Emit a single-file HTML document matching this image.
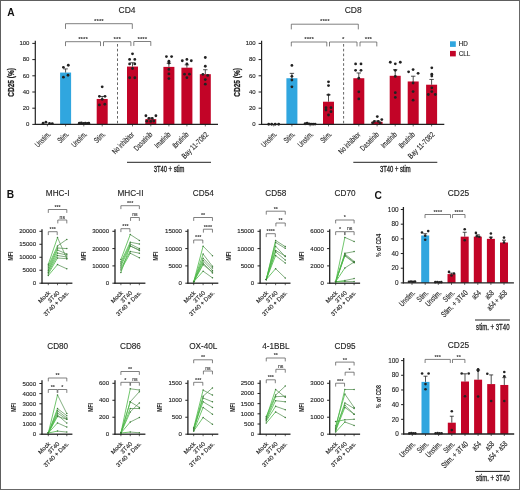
<!DOCTYPE html>
<html><head><meta charset="utf-8"><style>
html,body{margin:0;padding:0;background:#fff;}
body{width:520px;height:490px;overflow:hidden;position:relative;}
svg{position:absolute;left:0;top:0;will-change:transform;}
.frame{position:absolute;left:0;top:0;width:520px;height:490px;box-sizing:border-box;border:1px solid #686868;border-top-color:#5e5e5e;border-left-color:#5e5e5e;}
</style></head><body>
<svg width="520" height="490" viewBox="0 0 520 490" font-family='"Liberation Sans", sans-serif'>
<rect x="0" y="0" width="520" height="490" fill="#fff"/>
<text transform="translate(127,13.4)" font-size="8.5" text-anchor="middle" fill="#222" stroke="#222" stroke-width="0.12">CD4</text>
<line x1="35.3" y1="40.8" x2="35.3" y2="124.9" stroke="#222" stroke-width="1.2"/>
<line x1="32.3" y1="124.4" x2="35.3" y2="124.4" stroke="#222" stroke-width="1"/>
<text transform="translate(29.4,126.1)" font-size="6" text-anchor="end" fill="#222" stroke="#222" stroke-width="0.12">0</text>
<line x1="32.3" y1="108.2" x2="35.3" y2="108.2" stroke="#222" stroke-width="1"/>
<text transform="translate(29.4,109.9)" font-size="6" text-anchor="end" fill="#222" stroke="#222" stroke-width="0.12">20</text>
<line x1="32.3" y1="92" x2="35.3" y2="92" stroke="#222" stroke-width="1"/>
<text transform="translate(29.4,93.7)" font-size="6" text-anchor="end" fill="#222" stroke="#222" stroke-width="0.12">40</text>
<line x1="32.3" y1="75.8" x2="35.3" y2="75.8" stroke="#222" stroke-width="1"/>
<text transform="translate(29.4,77.5)" font-size="6" text-anchor="end" fill="#222" stroke="#222" stroke-width="0.12">60</text>
<line x1="32.3" y1="59.6" x2="35.3" y2="59.6" stroke="#222" stroke-width="1"/>
<text transform="translate(29.4,61.3)" font-size="6" text-anchor="end" fill="#222" stroke="#222" stroke-width="0.12">80</text>
<line x1="32.3" y1="43.4" x2="35.3" y2="43.4" stroke="#222" stroke-width="1"/>
<text transform="translate(29.4,45.1)" font-size="6" text-anchor="end" fill="#222" stroke="#222" stroke-width="0.12">100</text>
<text transform="translate(14.1,82.4) rotate(-90)" font-size="8.2" text-anchor="middle" fill="#222" font-weight="bold" textLength="28.6" lengthAdjust="spacingAndGlyphs" stroke="#222" stroke-width="0.25">CD25 (%)</text>
<circle cx="43.1" cy="123.19" r="1.4" fill="#222"/>
<circle cx="45.9" cy="122.13" r="1.4" fill="#222"/>
<circle cx="49.5" cy="123.43" r="1.4" fill="#222"/>
<circle cx="52.3" cy="123.59" r="1.4" fill="#222"/>
<line x1="47.4" y1="124.4" x2="47.4" y2="126.4" stroke="#222" stroke-width="0.7"/>
<text transform="translate(51.1,134.8) rotate(-45) scale(0.7,1)" font-size="7.8" text-anchor="end" fill="#222" stroke="#222" stroke-width="0.12">Unstim.</text>
<rect x="60.1" y="72.56" width="11" height="51.84" fill="#30a6df"/>
<line x1="65.6" y1="72.56" x2="65.6" y2="68.91" stroke="#222" stroke-width="0.8"/>
<line x1="63.4" y1="68.91" x2="67.8" y2="68.91" stroke="#222" stroke-width="0.8"/>
<circle cx="63.4" cy="67.3" r="1.4" fill="#222"/>
<circle cx="68.3" cy="65.27" r="1.4" fill="#222"/>
<circle cx="63.4" cy="77.18" r="1.4" fill="#222"/>
<circle cx="68" cy="75.23" r="1.4" fill="#222"/>
<line x1="65.6" y1="124.4" x2="65.6" y2="126.4" stroke="#222" stroke-width="0.7"/>
<text transform="translate(69.3,134.8) rotate(-45) scale(0.7,1)" font-size="7.8" text-anchor="end" fill="#222" stroke="#222" stroke-width="0.12">Stim.</text>
<circle cx="79.3" cy="123.27" r="1.4" fill="#222"/>
<circle cx="81.3" cy="122.94" r="1.4" fill="#222"/>
<circle cx="83.3" cy="123.43" r="1.4" fill="#222"/>
<circle cx="85.3" cy="123.1" r="1.4" fill="#222"/>
<circle cx="87.3" cy="123.35" r="1.4" fill="#222"/>
<circle cx="88.8" cy="123.19" r="1.4" fill="#222"/>
<line x1="83.8" y1="124.4" x2="83.8" y2="126.4" stroke="#222" stroke-width="0.7"/>
<text transform="translate(87.5,134.8) rotate(-45) scale(0.7,1)" font-size="7.8" text-anchor="end" fill="#222" stroke="#222" stroke-width="0.12">Unstim.</text>
<rect x="96.7" y="98.97" width="11" height="25.43" fill="#c20427"/>
<line x1="102.2" y1="98.97" x2="102.2" y2="96.46" stroke="#222" stroke-width="0.8"/>
<line x1="100" y1="96.46" x2="104.4" y2="96.46" stroke="#222" stroke-width="0.8"/>
<circle cx="102.2" cy="86.82" r="1.4" fill="#222"/>
<circle cx="99.4" cy="96.37" r="1.4" fill="#222"/>
<circle cx="105" cy="96.37" r="1.4" fill="#222"/>
<circle cx="102.2" cy="99.29" r="1.4" fill="#222"/>
<circle cx="99.4" cy="104.96" r="1.4" fill="#222"/>
<circle cx="104.8" cy="104.23" r="1.4" fill="#222"/>
<line x1="102.2" y1="124.4" x2="102.2" y2="126.4" stroke="#222" stroke-width="0.7"/>
<text transform="translate(105.9,134.8) rotate(-45) scale(0.7,1)" font-size="7.8" text-anchor="end" fill="#222" stroke="#222" stroke-width="0.12">Stim.</text>
<rect x="127" y="66.57" width="11" height="57.83" fill="#c20427"/>
<line x1="132.5" y1="66.57" x2="132.5" y2="62.76" stroke="#222" stroke-width="0.8"/>
<line x1="130.3" y1="62.76" x2="134.7" y2="62.76" stroke="#222" stroke-width="0.8"/>
<circle cx="132.5" cy="53.85" r="1.4" fill="#222"/>
<circle cx="129.6" cy="59.44" r="1.4" fill="#222"/>
<circle cx="134.8" cy="59.44" r="1.4" fill="#222"/>
<circle cx="129.6" cy="63.97" r="1.4" fill="#222"/>
<circle cx="134.8" cy="63.97" r="1.4" fill="#222"/>
<circle cx="132.5" cy="68.51" r="1.4" fill="#222"/>
<circle cx="129.6" cy="77.74" r="1.4" fill="#222"/>
<circle cx="134.8" cy="77.74" r="1.4" fill="#222"/>
<line x1="132.5" y1="124.4" x2="132.5" y2="126.4" stroke="#222" stroke-width="0.7"/>
<text transform="translate(134.7,135.1) rotate(-45) scale(0.7,1)" font-size="7.8" text-anchor="end" fill="#222" stroke="#222" stroke-width="0.12">No inhibitor</text>
<rect x="145.3" y="119.14" width="11" height="5.27" fill="#c20427"/>
<line x1="150.8" y1="119.14" x2="150.8" y2="117.92" stroke="#222" stroke-width="0.8"/>
<line x1="148.6" y1="117.92" x2="153" y2="117.92" stroke="#222" stroke-width="0.8"/>
<circle cx="145.9" cy="115.73" r="1.4" fill="#222"/>
<circle cx="155.9" cy="115.73" r="1.4" fill="#222"/>
<circle cx="148.8" cy="118.41" r="1.4" fill="#222"/>
<circle cx="152.3" cy="118.41" r="1.4" fill="#222"/>
<circle cx="146.8" cy="121.16" r="1.4" fill="#222"/>
<circle cx="150.8" cy="121.4" r="1.4" fill="#222"/>
<circle cx="153.8" cy="121" r="1.4" fill="#222"/>
<line x1="150.8" y1="124.4" x2="150.8" y2="126.4" stroke="#222" stroke-width="0.7"/>
<text transform="translate(153,135.1) rotate(-45) scale(0.7,1)" font-size="7.8" text-anchor="end" fill="#222" stroke="#222" stroke-width="0.12">Dasatinib</text>
<rect x="163.4" y="66.89" width="11" height="57.51" fill="#c20427"/>
<line x1="168.9" y1="66.89" x2="168.9" y2="63.25" stroke="#222" stroke-width="0.8"/>
<line x1="166.7" y1="63.25" x2="171.1" y2="63.25" stroke="#222" stroke-width="0.8"/>
<circle cx="166.4" cy="56.6" r="1.4" fill="#222"/>
<circle cx="171.6" cy="56.6" r="1.4" fill="#222"/>
<circle cx="168.9" cy="61.22" r="1.4" fill="#222"/>
<circle cx="168.9" cy="63" r="1.4" fill="#222"/>
<circle cx="168.9" cy="69.4" r="1.4" fill="#222"/>
<circle cx="168.9" cy="73.94" r="1.4" fill="#222"/>
<circle cx="168.9" cy="78.55" r="1.4" fill="#222"/>
<line x1="168.9" y1="124.4" x2="168.9" y2="126.4" stroke="#222" stroke-width="0.7"/>
<text transform="translate(171.1,135.1) rotate(-45) scale(0.7,1)" font-size="7.8" text-anchor="end" fill="#222" stroke="#222" stroke-width="0.12">Imatinib</text>
<rect x="181.4" y="67.7" width="11" height="56.7" fill="#c20427"/>
<line x1="186.9" y1="67.7" x2="186.9" y2="64.87" stroke="#222" stroke-width="0.8"/>
<line x1="184.7" y1="64.87" x2="189.1" y2="64.87" stroke="#222" stroke-width="0.8"/>
<circle cx="182.3" cy="60.73" r="1.4" fill="#222"/>
<circle cx="186.9" cy="59.44" r="1.4" fill="#222"/>
<circle cx="191.3" cy="60.73" r="1.4" fill="#222"/>
<circle cx="186.9" cy="63.97" r="1.4" fill="#222"/>
<circle cx="184.5" cy="74.18" r="1.4" fill="#222"/>
<circle cx="189.4" cy="74.18" r="1.4" fill="#222"/>
<circle cx="186.9" cy="77.66" r="1.4" fill="#222"/>
<line x1="186.9" y1="124.4" x2="186.9" y2="126.4" stroke="#222" stroke-width="0.7"/>
<text transform="translate(189.1,135.1) rotate(-45) scale(0.7,1)" font-size="7.8" text-anchor="end" fill="#222" stroke="#222" stroke-width="0.12">Ibrutinib</text>
<rect x="199.8" y="74.18" width="11" height="50.22" fill="#c20427"/>
<line x1="205.3" y1="74.18" x2="205.3" y2="69.72" stroke="#222" stroke-width="0.8"/>
<line x1="203.1" y1="69.72" x2="207.5" y2="69.72" stroke="#222" stroke-width="0.8"/>
<circle cx="205.3" cy="57.49" r="1.4" fill="#222"/>
<circle cx="205.3" cy="66.24" r="1.4" fill="#222"/>
<circle cx="202.9" cy="74.34" r="1.4" fill="#222"/>
<circle cx="207.7" cy="75.4" r="1.4" fill="#222"/>
<circle cx="205.3" cy="79.53" r="1.4" fill="#222"/>
<circle cx="205.3" cy="84.22" r="1.4" fill="#222"/>
<line x1="205.3" y1="124.4" x2="205.3" y2="126.4" stroke="#222" stroke-width="0.7"/>
<text transform="translate(208.8,135.1) rotate(-45) scale(0.78,1)" font-size="7.8" text-anchor="end" fill="#222" stroke="#222" stroke-width="0.12">Bay 11-7082</text>
<line x1="34.8" y1="124.4" x2="218" y2="124.4" stroke="#222" stroke-width="1.2"/>
<line x1="117.5" y1="44" x2="117.5" y2="124.4" stroke="#555" stroke-width="0.9" stroke-dasharray="2.6,2.2"/>
<polyline points="65.5,28.9 65.5,23.7 132.3,23.7 132.3,28.9" stroke="#555" stroke-width="0.75" fill="none"/>
<text transform="translate(98.9,22.9)" font-size="6.2" text-anchor="middle" fill="#333" font-weight="bold">****</text>
<polyline points="65.5,46.1 65.5,41.7 100.5,41.7 100.5,46.1" stroke="#555" stroke-width="0.75" fill="none"/>
<text transform="translate(83,40.9)" font-size="6.2" text-anchor="middle" fill="#333" font-weight="bold">****</text>
<polyline points="103.5,46.1 103.5,41.7 130.9,41.7 130.9,46.1" stroke="#555" stroke-width="0.75" fill="none"/>
<text transform="translate(117.2,40.9)" font-size="6.2" text-anchor="middle" fill="#333" font-weight="bold">***</text>
<polyline points="133.8,45.9 133.8,41.5 150.8,41.5 150.8,45.9" stroke="#555" stroke-width="0.75" fill="none"/>
<text transform="translate(142.3,40.7)" font-size="6.2" text-anchor="middle" fill="#333" font-weight="bold">****</text>
<line x1="127" y1="162.3" x2="211" y2="162.3" stroke="#222" stroke-width="1"/>
<text transform="translate(169,172)" font-size="8.8" text-anchor="middle" fill="#222" textLength="30.7" lengthAdjust="spacingAndGlyphs" stroke="#222" stroke-width="0.35">3T40 + stim</text>
<text transform="translate(353.2,13.4)" font-size="8.5" text-anchor="middle" fill="#222" stroke="#222" stroke-width="0.12">CD8</text>
<line x1="261.6" y1="40.8" x2="261.6" y2="124.9" stroke="#222" stroke-width="1.2"/>
<line x1="258.6" y1="124.4" x2="261.6" y2="124.4" stroke="#222" stroke-width="1"/>
<text transform="translate(255.7,126.1)" font-size="6" text-anchor="end" fill="#222" stroke="#222" stroke-width="0.12">0</text>
<line x1="258.6" y1="108.2" x2="261.6" y2="108.2" stroke="#222" stroke-width="1"/>
<text transform="translate(255.7,109.9)" font-size="6" text-anchor="end" fill="#222" stroke="#222" stroke-width="0.12">20</text>
<line x1="258.6" y1="92" x2="261.6" y2="92" stroke="#222" stroke-width="1"/>
<text transform="translate(255.7,93.7)" font-size="6" text-anchor="end" fill="#222" stroke="#222" stroke-width="0.12">40</text>
<line x1="258.6" y1="75.8" x2="261.6" y2="75.8" stroke="#222" stroke-width="1"/>
<text transform="translate(255.7,77.5)" font-size="6" text-anchor="end" fill="#222" stroke="#222" stroke-width="0.12">60</text>
<line x1="258.6" y1="59.6" x2="261.6" y2="59.6" stroke="#222" stroke-width="1"/>
<text transform="translate(255.7,61.3)" font-size="6" text-anchor="end" fill="#222" stroke="#222" stroke-width="0.12">80</text>
<line x1="258.6" y1="43.4" x2="261.6" y2="43.4" stroke="#222" stroke-width="1"/>
<text transform="translate(255.7,45.1)" font-size="6" text-anchor="end" fill="#222" stroke="#222" stroke-width="0.12">100</text>
<text transform="translate(240.2,82.4) rotate(-90)" font-size="8.2" text-anchor="middle" fill="#222" font-weight="bold" textLength="28.6" lengthAdjust="spacingAndGlyphs" stroke="#222" stroke-width="0.25">CD25 (%)</text>
<circle cx="268.7" cy="124.24" r="1.4" fill="#222"/>
<circle cx="271.7" cy="124.24" r="1.4" fill="#222"/>
<circle cx="275.2" cy="124.24" r="1.4" fill="#222"/>
<circle cx="278.7" cy="124.24" r="1.4" fill="#222"/>
<line x1="273.7" y1="124.4" x2="273.7" y2="126.4" stroke="#222" stroke-width="0.7"/>
<text transform="translate(277.4,134.8) rotate(-45) scale(0.7,1)" font-size="7.8" text-anchor="end" fill="#222" stroke="#222" stroke-width="0.12">Unstim.</text>
<rect x="286.4" y="78.23" width="11" height="46.17" fill="#30a6df"/>
<line x1="291.9" y1="78.23" x2="291.9" y2="73.37" stroke="#222" stroke-width="0.8"/>
<line x1="289.7" y1="73.37" x2="294.1" y2="73.37" stroke="#222" stroke-width="0.8"/>
<circle cx="291.9" cy="65.43" r="1.4" fill="#222"/>
<circle cx="291.9" cy="76.29" r="1.4" fill="#222"/>
<circle cx="291.9" cy="80.01" r="1.4" fill="#222"/>
<circle cx="291.9" cy="86.82" r="1.4" fill="#222"/>
<line x1="291.9" y1="124.4" x2="291.9" y2="126.4" stroke="#222" stroke-width="0.7"/>
<text transform="translate(295.6,134.8) rotate(-45) scale(0.7,1)" font-size="7.8" text-anchor="end" fill="#222" stroke="#222" stroke-width="0.12">Stim.</text>
<circle cx="305.1" cy="123.75" r="1.4" fill="#222"/>
<circle cx="307.1" cy="123.19" r="1.4" fill="#222"/>
<circle cx="309.1" cy="123.91" r="1.4" fill="#222"/>
<circle cx="311.1" cy="124.08" r="1.4" fill="#222"/>
<circle cx="313.1" cy="124.16" r="1.4" fill="#222"/>
<circle cx="315.1" cy="124.08" r="1.4" fill="#222"/>
<line x1="310.1" y1="124.4" x2="310.1" y2="126.4" stroke="#222" stroke-width="0.7"/>
<text transform="translate(313.8,134.8) rotate(-45) scale(0.7,1)" font-size="7.8" text-anchor="end" fill="#222" stroke="#222" stroke-width="0.12">Unstim.</text>
<rect x="323" y="101.72" width="11" height="22.68" fill="#c20427"/>
<line x1="328.5" y1="101.72" x2="328.5" y2="94.84" stroke="#222" stroke-width="0.8"/>
<line x1="326.3" y1="94.84" x2="330.7" y2="94.84" stroke="#222" stroke-width="0.8"/>
<circle cx="328.5" cy="81.79" r="1.4" fill="#222"/>
<circle cx="328.5" cy="85.6" r="1.4" fill="#222"/>
<circle cx="328.5" cy="94.84" r="1.4" fill="#222"/>
<circle cx="326" cy="107.71" r="1.4" fill="#222"/>
<circle cx="331" cy="107.71" r="1.4" fill="#222"/>
<circle cx="326" cy="109.98" r="1.4" fill="#222"/>
<circle cx="331" cy="111.68" r="1.4" fill="#222"/>
<circle cx="328.5" cy="115" r="1.4" fill="#222"/>
<line x1="328.5" y1="124.4" x2="328.5" y2="126.4" stroke="#222" stroke-width="0.7"/>
<text transform="translate(332.2,134.8) rotate(-45) scale(0.7,1)" font-size="7.8" text-anchor="end" fill="#222" stroke="#222" stroke-width="0.12">Stim.</text>
<rect x="353.3" y="78.23" width="11" height="46.17" fill="#c20427"/>
<line x1="358.8" y1="78.23" x2="358.8" y2="72.97" stroke="#222" stroke-width="0.8"/>
<line x1="356.6" y1="72.97" x2="361" y2="72.97" stroke="#222" stroke-width="0.8"/>
<circle cx="355.6" cy="63.97" r="1.4" fill="#222"/>
<circle cx="361" cy="63.97" r="1.4" fill="#222"/>
<circle cx="355.6" cy="70.37" r="1.4" fill="#222"/>
<circle cx="361" cy="70.37" r="1.4" fill="#222"/>
<circle cx="358.8" cy="78.23" r="1.4" fill="#222"/>
<circle cx="358.8" cy="91.84" r="1.4" fill="#222"/>
<circle cx="358.8" cy="98.97" r="1.4" fill="#222"/>
<line x1="358.8" y1="124.4" x2="358.8" y2="126.4" stroke="#222" stroke-width="0.7"/>
<text transform="translate(361,135.1) rotate(-45) scale(0.7,1)" font-size="7.8" text-anchor="end" fill="#222" stroke="#222" stroke-width="0.12">No inhibitor</text>
<rect x="371.6" y="121.81" width="11" height="2.59" fill="#c20427"/>
<line x1="377.1" y1="121.81" x2="377.1" y2="121" stroke="#222" stroke-width="0.8"/>
<line x1="374.9" y1="121" x2="379.3" y2="121" stroke="#222" stroke-width="0.8"/>
<circle cx="377.3" cy="116.62" r="1.4" fill="#222"/>
<circle cx="381.8" cy="119.54" r="1.4" fill="#222"/>
<circle cx="374.3" cy="121.4" r="1.4" fill="#222"/>
<circle cx="378.3" cy="121.4" r="1.4" fill="#222"/>
<circle cx="372.6" cy="122.78" r="1.4" fill="#222"/>
<circle cx="380.1" cy="122.78" r="1.4" fill="#222"/>
<line x1="377.1" y1="124.4" x2="377.1" y2="126.4" stroke="#222" stroke-width="0.7"/>
<text transform="translate(379.3,135.1) rotate(-45) scale(0.7,1)" font-size="7.8" text-anchor="end" fill="#222" stroke="#222" stroke-width="0.12">Dasatinib</text>
<rect x="389.7" y="75.8" width="11" height="48.6" fill="#c20427"/>
<line x1="395.2" y1="75.8" x2="395.2" y2="69.72" stroke="#222" stroke-width="0.8"/>
<line x1="393" y1="69.72" x2="397.4" y2="69.72" stroke="#222" stroke-width="0.8"/>
<circle cx="390.3" cy="62.27" r="1.4" fill="#222"/>
<circle cx="395.3" cy="63.81" r="1.4" fill="#222"/>
<circle cx="400.3" cy="62.27" r="1.4" fill="#222"/>
<circle cx="395.3" cy="70.37" r="1.4" fill="#222"/>
<circle cx="395.3" cy="76.45" r="1.4" fill="#222"/>
<circle cx="395.3" cy="92.65" r="1.4" fill="#222"/>
<circle cx="395.3" cy="97.43" r="1.4" fill="#222"/>
<line x1="395.2" y1="124.4" x2="395.2" y2="126.4" stroke="#222" stroke-width="0.7"/>
<text transform="translate(397.4,135.1) rotate(-45) scale(0.7,1)" font-size="7.8" text-anchor="end" fill="#222" stroke="#222" stroke-width="0.12">Imatinib</text>
<rect x="407.7" y="81.47" width="11" height="42.93" fill="#c20427"/>
<line x1="413.2" y1="81.47" x2="413.2" y2="76.21" stroke="#222" stroke-width="0.8"/>
<line x1="411" y1="76.21" x2="415.4" y2="76.21" stroke="#222" stroke-width="0.8"/>
<circle cx="408.6" cy="71.83" r="1.4" fill="#222"/>
<circle cx="413.1" cy="69.56" r="1.4" fill="#222"/>
<circle cx="418.1" cy="73.29" r="1.4" fill="#222"/>
<circle cx="413.1" cy="83.01" r="1.4" fill="#222"/>
<circle cx="413.1" cy="91.59" r="1.4" fill="#222"/>
<circle cx="413.1" cy="100.18" r="1.4" fill="#222"/>
<line x1="413.2" y1="124.4" x2="413.2" y2="126.4" stroke="#222" stroke-width="0.7"/>
<text transform="translate(415.4,135.1) rotate(-45) scale(0.7,1)" font-size="7.8" text-anchor="end" fill="#222" stroke="#222" stroke-width="0.12">Ibrutinib</text>
<rect x="426.1" y="84.71" width="11" height="39.69" fill="#c20427"/>
<line x1="431.6" y1="84.71" x2="431.6" y2="79.44" stroke="#222" stroke-width="0.8"/>
<line x1="429.4" y1="79.44" x2="433.8" y2="79.44" stroke="#222" stroke-width="0.8"/>
<circle cx="431.8" cy="67.86" r="1.4" fill="#222"/>
<circle cx="431.8" cy="74.26" r="1.4" fill="#222"/>
<circle cx="431.8" cy="76.12" r="1.4" fill="#222"/>
<circle cx="431.8" cy="87.79" r="1.4" fill="#222"/>
<circle cx="428.3" cy="94.51" r="1.4" fill="#222"/>
<circle cx="435.3" cy="94.51" r="1.4" fill="#222"/>
<circle cx="431.8" cy="91.59" r="1.4" fill="#222"/>
<line x1="431.6" y1="124.4" x2="431.6" y2="126.4" stroke="#222" stroke-width="0.7"/>
<text transform="translate(435.1,135.1) rotate(-45) scale(0.78,1)" font-size="7.8" text-anchor="end" fill="#222" stroke="#222" stroke-width="0.12">Bay 11-7082</text>
<line x1="261.1" y1="124.4" x2="444.3" y2="124.4" stroke="#222" stroke-width="1.2"/>
<line x1="343.6" y1="44" x2="343.6" y2="124.4" stroke="#555" stroke-width="0.9" stroke-dasharray="2.6,2.2"/>
<polyline points="291.3,29.4 291.3,24.2 358.3,24.2 358.3,29.4" stroke="#555" stroke-width="0.75" fill="none"/>
<text transform="translate(324.8,23.4)" font-size="6.2" text-anchor="middle" fill="#333" font-weight="bold">****</text>
<polyline points="291.3,46.4 291.3,42 326.8,42 326.8,46.4" stroke="#555" stroke-width="0.75" fill="none"/>
<text transform="translate(309.05,41.2)" font-size="6.2" text-anchor="middle" fill="#333" font-weight="bold">****</text>
<polyline points="329.5,46.4 329.5,42 357,42 357,46.4" stroke="#555" stroke-width="0.75" fill="none"/>
<text transform="translate(343.25,41.2)" font-size="6.2" text-anchor="middle" fill="#333" font-weight="bold">*</text>
<polyline points="360,46.4 360,42 376.8,42 376.8,46.4" stroke="#555" stroke-width="0.75" fill="none"/>
<text transform="translate(368.4,41.2)" font-size="6.2" text-anchor="middle" fill="#333" font-weight="bold">***</text>
<line x1="353.3" y1="162.3" x2="437.3" y2="162.3" stroke="#222" stroke-width="1"/>
<text transform="translate(395.3,172)" font-size="8.8" text-anchor="middle" fill="#222" textLength="30.7" lengthAdjust="spacingAndGlyphs" stroke="#222" stroke-width="0.35">3T40 + stim</text>
<rect x="450" y="41.3" width="5.8" height="5.6" fill="#30a6df"/>
<rect x="450" y="50.9" width="5.8" height="5.5" fill="#c20427"/>
<text transform="translate(458.8,46.1)" font-size="6.3" text-anchor="start" fill="#222" stroke="#222" stroke-width="0.12">HD</text>
<text transform="translate(458.8,55.7)" font-size="6.3" text-anchor="start" fill="#222" stroke="#222" stroke-width="0.12">CLL</text>
<text transform="translate(7.2,15.5)" font-size="10.2" text-anchor="start" fill="#111" font-weight="bold">A</text>
<text transform="translate(6.8,198.2)" font-size="10.2" text-anchor="start" fill="#111" font-weight="bold">B</text>
<text transform="translate(374.6,198.8)" font-size="10.2" text-anchor="start" fill="#111" font-weight="bold">C</text>
<text transform="translate(57.7,196.3)" font-size="8.2" text-anchor="middle" fill="#222" stroke="#222" stroke-width="0.12">MHC-I</text>
<line x1="42" y1="229.2" x2="42" y2="283.7" stroke="#222" stroke-width="1.3"/>
<line x1="39.4" y1="283.2" x2="42" y2="283.2" stroke="#222" stroke-width="1"/>
<text transform="translate(36.1,285.2)" font-size="6.1" text-anchor="end" fill="#222" stroke="#222" stroke-width="0.12">0</text>
<line x1="39.4" y1="270.23" x2="42" y2="270.23" stroke="#222" stroke-width="1"/>
<text transform="translate(36.1,272.23)" font-size="6.1" text-anchor="end" fill="#222" stroke="#222" stroke-width="0.12">5000</text>
<line x1="39.4" y1="257.25" x2="42" y2="257.25" stroke="#222" stroke-width="1"/>
<text transform="translate(36.1,259.25)" font-size="6.1" text-anchor="end" fill="#222" stroke="#222" stroke-width="0.12">10000</text>
<line x1="39.4" y1="244.28" x2="42" y2="244.28" stroke="#222" stroke-width="1"/>
<text transform="translate(36.1,246.28)" font-size="6.1" text-anchor="end" fill="#222" stroke="#222" stroke-width="0.12">15000</text>
<line x1="39.4" y1="231.3" x2="42" y2="231.3" stroke="#222" stroke-width="1"/>
<text transform="translate(36.1,233.3)" font-size="6.1" text-anchor="end" fill="#222" stroke="#222" stroke-width="0.12">20000</text>
<line x1="41.4" y1="283.2" x2="72.4" y2="283.2" stroke="#222" stroke-width="1.3"/>
<line x1="48.3" y1="283.2" x2="48.3" y2="285.2" stroke="#222" stroke-width="0.7"/>
<line x1="57.5" y1="283.2" x2="57.5" y2="285.2" stroke="#222" stroke-width="0.7"/>
<line x1="66.8" y1="283.2" x2="66.8" y2="285.2" stroke="#222" stroke-width="0.7"/>
<text transform="translate(12.8,256.1) rotate(-90)" font-size="8" text-anchor="middle" fill="#222" font-weight="bold" textLength="8.9" lengthAdjust="spacingAndGlyphs">MFI</text>
<line x1="57.5" y1="237.6" x2="66.8" y2="258.7" stroke="#5b9457" stroke-width="0.75"/>
<line x1="57.5" y1="245.9" x2="66.8" y2="239.4" stroke="#5b9457" stroke-width="0.75"/>
<line x1="57.5" y1="248" x2="66.8" y2="248.6" stroke="#5b9457" stroke-width="0.75"/>
<line x1="57.5" y1="250" x2="66.8" y2="254" stroke="#5b9457" stroke-width="0.75"/>
<line x1="57.5" y1="253" x2="66.8" y2="255" stroke="#5b9457" stroke-width="0.75"/>
<line x1="57.5" y1="255.5" x2="66.8" y2="257" stroke="#5b9457" stroke-width="0.75"/>
<line x1="57.5" y1="258" x2="66.8" y2="258.7" stroke="#5b9457" stroke-width="0.75"/>
<line x1="57.5" y1="264.6" x2="66.8" y2="268.8" stroke="#5b9457" stroke-width="0.75"/>
<line x1="48.3" y1="264.2" x2="57.5" y2="237.6" stroke="#4cb848" stroke-width="0.8"/>
<line x1="48.3" y1="266" x2="57.5" y2="245.9" stroke="#4cb848" stroke-width="0.8"/>
<line x1="48.3" y1="268" x2="57.5" y2="248" stroke="#4cb848" stroke-width="0.8"/>
<line x1="48.3" y1="270" x2="57.5" y2="250" stroke="#4cb848" stroke-width="0.8"/>
<line x1="48.3" y1="271" x2="57.5" y2="253" stroke="#4cb848" stroke-width="0.8"/>
<line x1="48.3" y1="272.5" x2="57.5" y2="255.5" stroke="#4cb848" stroke-width="0.8"/>
<line x1="48.3" y1="274" x2="57.5" y2="258" stroke="#4cb848" stroke-width="0.8"/>
<line x1="48.3" y1="275.5" x2="57.5" y2="264.6" stroke="#4cb848" stroke-width="0.8"/>
<circle cx="48.3" cy="264.2" r="0.75" fill="#3d7a3a"/>
<circle cx="57.5" cy="237.6" r="0.75" fill="#3d7a3a"/>
<circle cx="66.8" cy="258.7" r="0.75" fill="#3d7a3a"/>
<circle cx="48.3" cy="266" r="0.75" fill="#3d7a3a"/>
<circle cx="57.5" cy="245.9" r="0.75" fill="#3d7a3a"/>
<circle cx="66.8" cy="239.4" r="0.75" fill="#3d7a3a"/>
<circle cx="48.3" cy="268" r="0.75" fill="#3d7a3a"/>
<circle cx="57.5" cy="248" r="0.75" fill="#3d7a3a"/>
<circle cx="66.8" cy="248.6" r="0.75" fill="#3d7a3a"/>
<circle cx="48.3" cy="270" r="0.75" fill="#3d7a3a"/>
<circle cx="57.5" cy="250" r="0.75" fill="#3d7a3a"/>
<circle cx="66.8" cy="254" r="0.75" fill="#3d7a3a"/>
<circle cx="48.3" cy="271" r="0.75" fill="#3d7a3a"/>
<circle cx="57.5" cy="253" r="0.75" fill="#3d7a3a"/>
<circle cx="66.8" cy="255" r="0.75" fill="#3d7a3a"/>
<circle cx="48.3" cy="272.5" r="0.75" fill="#3d7a3a"/>
<circle cx="57.5" cy="255.5" r="0.75" fill="#3d7a3a"/>
<circle cx="66.8" cy="257" r="0.75" fill="#3d7a3a"/>
<circle cx="48.3" cy="274" r="0.75" fill="#3d7a3a"/>
<circle cx="57.5" cy="258" r="0.75" fill="#3d7a3a"/>
<circle cx="66.8" cy="258.7" r="0.75" fill="#3d7a3a"/>
<circle cx="48.3" cy="275.5" r="0.75" fill="#3d7a3a"/>
<circle cx="57.5" cy="264.6" r="0.75" fill="#3d7a3a"/>
<circle cx="66.8" cy="268.8" r="0.75" fill="#3d7a3a"/>
<polyline points="48.3,212.9 48.3,209.5 66.8,209.5 66.8,212.9" stroke="#555" stroke-width="0.75" fill="none"/>
<text transform="translate(57.55,208.9)" font-size="5.4" text-anchor="middle" fill="#333" font-weight="bold">***</text>
<polyline points="57.8,223.4 57.8,220 66.8,220 66.8,223.4" stroke="#555" stroke-width="0.75" fill="none"/>
<text transform="translate(62.3,218.6)" font-size="5.1" text-anchor="middle" fill="#333" stroke="#333" stroke-width="0.12">ns</text>
<polyline points="48.3,235.1 48.3,231.7 57.2,231.7 57.2,235.1" stroke="#555" stroke-width="0.75" fill="none"/>
<text transform="translate(52.75,231.1)" font-size="5.4" text-anchor="middle" fill="#333" font-weight="bold">***</text>
<text transform="translate(50.7,293.3) rotate(-45)" font-size="6" text-anchor="end" fill="#222" stroke="#222" stroke-width="0.12">Mock</text>
<text transform="translate(59.9,293.3) rotate(-45)" font-size="6" text-anchor="end" fill="#222" stroke="#222" stroke-width="0.12">3T40</text>
<text transform="translate(69.2,293.3) rotate(-45)" font-size="6" text-anchor="end" fill="#222" stroke="#222" stroke-width="0.12">3T40 + Das.</text>
<text transform="translate(130.45,196.3)" font-size="8.2" text-anchor="middle" fill="#222" stroke="#222" stroke-width="0.12">MHC-II</text>
<line x1="115" y1="229.2" x2="115" y2="283.7" stroke="#222" stroke-width="1.3"/>
<line x1="112.4" y1="283.2" x2="115" y2="283.2" stroke="#222" stroke-width="1"/>
<text transform="translate(109.1,285.2)" font-size="6.1" text-anchor="end" fill="#222" stroke="#222" stroke-width="0.12">0</text>
<line x1="112.4" y1="265.9" x2="115" y2="265.9" stroke="#222" stroke-width="1"/>
<text transform="translate(109.1,267.9)" font-size="6.1" text-anchor="end" fill="#222" stroke="#222" stroke-width="0.12">10000</text>
<line x1="112.4" y1="248.6" x2="115" y2="248.6" stroke="#222" stroke-width="1"/>
<text transform="translate(109.1,250.6)" font-size="6.1" text-anchor="end" fill="#222" stroke="#222" stroke-width="0.12">20000</text>
<line x1="112.4" y1="231.3" x2="115" y2="231.3" stroke="#222" stroke-width="1"/>
<text transform="translate(109.1,233.3)" font-size="6.1" text-anchor="end" fill="#222" stroke="#222" stroke-width="0.12">30000</text>
<line x1="114.4" y1="283.2" x2="145.4" y2="283.2" stroke="#222" stroke-width="1.3"/>
<line x1="120.9" y1="283.2" x2="120.9" y2="285.2" stroke="#222" stroke-width="0.7"/>
<line x1="130.25" y1="283.2" x2="130.25" y2="285.2" stroke="#222" stroke-width="0.7"/>
<line x1="139.35" y1="283.2" x2="139.35" y2="285.2" stroke="#222" stroke-width="0.7"/>
<text transform="translate(85.8,256.1) rotate(-90)" font-size="8" text-anchor="middle" fill="#222" font-weight="bold" textLength="8.9" lengthAdjust="spacingAndGlyphs">MFI</text>
<line x1="130.25" y1="234.5" x2="139.35" y2="240.4" stroke="#5b9457" stroke-width="0.75"/>
<line x1="130.25" y1="242.2" x2="139.35" y2="244" stroke="#5b9457" stroke-width="0.75"/>
<line x1="130.25" y1="244" x2="139.35" y2="248.6" stroke="#5b9457" stroke-width="0.75"/>
<line x1="130.25" y1="245.9" x2="139.35" y2="250.5" stroke="#5b9457" stroke-width="0.75"/>
<line x1="130.25" y1="251.4" x2="139.35" y2="253.2" stroke="#5b9457" stroke-width="0.75"/>
<line x1="130.25" y1="253.2" x2="139.35" y2="257.8" stroke="#5b9457" stroke-width="0.75"/>
<line x1="130.25" y1="246" x2="139.35" y2="250" stroke="#5b9457" stroke-width="0.75"/>
<line x1="120.9" y1="259.6" x2="130.25" y2="234.5" stroke="#4cb848" stroke-width="0.8"/>
<line x1="120.9" y1="262" x2="130.25" y2="242.2" stroke="#4cb848" stroke-width="0.8"/>
<line x1="120.9" y1="264" x2="130.25" y2="244" stroke="#4cb848" stroke-width="0.8"/>
<line x1="120.9" y1="266" x2="130.25" y2="245.9" stroke="#4cb848" stroke-width="0.8"/>
<line x1="120.9" y1="268" x2="130.25" y2="251.4" stroke="#4cb848" stroke-width="0.8"/>
<line x1="120.9" y1="270" x2="130.25" y2="253.2" stroke="#4cb848" stroke-width="0.8"/>
<line x1="120.9" y1="272.5" x2="130.25" y2="246" stroke="#4cb848" stroke-width="0.8"/>
<circle cx="120.9" cy="259.6" r="0.75" fill="#3d7a3a"/>
<circle cx="130.25" cy="234.5" r="0.75" fill="#3d7a3a"/>
<circle cx="139.35" cy="240.4" r="0.75" fill="#3d7a3a"/>
<circle cx="120.9" cy="262" r="0.75" fill="#3d7a3a"/>
<circle cx="130.25" cy="242.2" r="0.75" fill="#3d7a3a"/>
<circle cx="139.35" cy="244" r="0.75" fill="#3d7a3a"/>
<circle cx="120.9" cy="264" r="0.75" fill="#3d7a3a"/>
<circle cx="130.25" cy="244" r="0.75" fill="#3d7a3a"/>
<circle cx="139.35" cy="248.6" r="0.75" fill="#3d7a3a"/>
<circle cx="120.9" cy="266" r="0.75" fill="#3d7a3a"/>
<circle cx="130.25" cy="245.9" r="0.75" fill="#3d7a3a"/>
<circle cx="139.35" cy="250.5" r="0.75" fill="#3d7a3a"/>
<circle cx="120.9" cy="268" r="0.75" fill="#3d7a3a"/>
<circle cx="130.25" cy="251.4" r="0.75" fill="#3d7a3a"/>
<circle cx="139.35" cy="253.2" r="0.75" fill="#3d7a3a"/>
<circle cx="120.9" cy="270" r="0.75" fill="#3d7a3a"/>
<circle cx="130.25" cy="253.2" r="0.75" fill="#3d7a3a"/>
<circle cx="139.35" cy="257.8" r="0.75" fill="#3d7a3a"/>
<circle cx="120.9" cy="272.5" r="0.75" fill="#3d7a3a"/>
<circle cx="130.25" cy="246" r="0.75" fill="#3d7a3a"/>
<circle cx="139.35" cy="250" r="0.75" fill="#3d7a3a"/>
<polyline points="120.9,209.1 120.9,205.7 139.35,205.7 139.35,209.1" stroke="#555" stroke-width="0.75" fill="none"/>
<text transform="translate(130.12,205.1)" font-size="5.4" text-anchor="middle" fill="#333" font-weight="bold">***</text>
<polyline points="130.55,220.9 130.55,217.5 139.35,217.5 139.35,220.9" stroke="#555" stroke-width="0.75" fill="none"/>
<text transform="translate(134.95,216.1)" font-size="5.1" text-anchor="middle" fill="#333" stroke="#333" stroke-width="0.12">ns</text>
<polyline points="120.9,232.1 120.9,228.7 129.95,228.7 129.95,232.1" stroke="#555" stroke-width="0.75" fill="none"/>
<text transform="translate(125.42,228.1)" font-size="5.4" text-anchor="middle" fill="#333" font-weight="bold">***</text>
<text transform="translate(123.3,293.3) rotate(-45)" font-size="6" text-anchor="end" fill="#222" stroke="#222" stroke-width="0.12">Mock</text>
<text transform="translate(132.65,293.3) rotate(-45)" font-size="6" text-anchor="end" fill="#222" stroke="#222" stroke-width="0.12">3T40</text>
<text transform="translate(141.75,293.3) rotate(-45)" font-size="6" text-anchor="end" fill="#222" stroke="#222" stroke-width="0.12">3T40 + Das.</text>
<text transform="translate(203.3,196.3)" font-size="8.2" text-anchor="middle" fill="#222" stroke="#222" stroke-width="0.12">CD54</text>
<line x1="187.9" y1="229.2" x2="187.9" y2="283.7" stroke="#222" stroke-width="1.3"/>
<line x1="185.3" y1="283.2" x2="187.9" y2="283.2" stroke="#222" stroke-width="1"/>
<text transform="translate(182,285.2)" font-size="6.1" text-anchor="end" fill="#222" stroke="#222" stroke-width="0.12">0</text>
<line x1="185.3" y1="265.9" x2="187.9" y2="265.9" stroke="#222" stroke-width="1"/>
<text transform="translate(182,267.9)" font-size="6.1" text-anchor="end" fill="#222" stroke="#222" stroke-width="0.12">5000</text>
<line x1="185.3" y1="248.6" x2="187.9" y2="248.6" stroke="#222" stroke-width="1"/>
<text transform="translate(182,250.6)" font-size="6.1" text-anchor="end" fill="#222" stroke="#222" stroke-width="0.12">10000</text>
<line x1="185.3" y1="231.3" x2="187.9" y2="231.3" stroke="#222" stroke-width="1"/>
<text transform="translate(182,233.3)" font-size="6.1" text-anchor="end" fill="#222" stroke="#222" stroke-width="0.12">15000</text>
<line x1="187.3" y1="283.2" x2="218.3" y2="283.2" stroke="#222" stroke-width="1.3"/>
<line x1="193.7" y1="283.2" x2="193.7" y2="285.2" stroke="#222" stroke-width="0.7"/>
<line x1="203.1" y1="283.2" x2="203.1" y2="285.2" stroke="#222" stroke-width="0.7"/>
<line x1="212.45" y1="283.2" x2="212.45" y2="285.2" stroke="#222" stroke-width="0.7"/>
<text transform="translate(158.4,256.1) rotate(-90)" font-size="8" text-anchor="middle" fill="#222" font-weight="bold" textLength="8.9" lengthAdjust="spacingAndGlyphs">MFI</text>
<line x1="203.1" y1="246.2" x2="212.45" y2="255.7" stroke="#5b9457" stroke-width="0.75"/>
<line x1="203.1" y1="254.1" x2="212.45" y2="266.3" stroke="#5b9457" stroke-width="0.75"/>
<line x1="203.1" y1="258.2" x2="212.45" y2="268" stroke="#5b9457" stroke-width="0.75"/>
<line x1="203.1" y1="260.6" x2="212.45" y2="270.4" stroke="#5b9457" stroke-width="0.75"/>
<line x1="203.1" y1="263" x2="212.45" y2="272.9" stroke="#5b9457" stroke-width="0.75"/>
<line x1="203.1" y1="264.7" x2="212.45" y2="272" stroke="#5b9457" stroke-width="0.75"/>
<line x1="203.1" y1="271.2" x2="212.45" y2="277.8" stroke="#5b9457" stroke-width="0.75"/>
<line x1="193.7" y1="281.8" x2="203.1" y2="246.2" stroke="#4cb848" stroke-width="0.8"/>
<line x1="193.7" y1="281.8" x2="203.1" y2="254.1" stroke="#4cb848" stroke-width="0.8"/>
<line x1="193.7" y1="281.8" x2="203.1" y2="258.2" stroke="#4cb848" stroke-width="0.8"/>
<line x1="193.7" y1="281.8" x2="203.1" y2="260.6" stroke="#4cb848" stroke-width="0.8"/>
<line x1="193.7" y1="281.8" x2="203.1" y2="263" stroke="#4cb848" stroke-width="0.8"/>
<line x1="193.7" y1="281.8" x2="203.1" y2="264.7" stroke="#4cb848" stroke-width="0.8"/>
<line x1="193.7" y1="281.8" x2="203.1" y2="271.2" stroke="#4cb848" stroke-width="0.8"/>
<circle cx="193.7" cy="281.8" r="0.75" fill="#3d7a3a"/>
<circle cx="203.1" cy="246.2" r="0.75" fill="#3d7a3a"/>
<circle cx="212.45" cy="255.7" r="0.75" fill="#3d7a3a"/>
<circle cx="193.7" cy="281.8" r="0.75" fill="#3d7a3a"/>
<circle cx="203.1" cy="254.1" r="0.75" fill="#3d7a3a"/>
<circle cx="212.45" cy="266.3" r="0.75" fill="#3d7a3a"/>
<circle cx="193.7" cy="281.8" r="0.75" fill="#3d7a3a"/>
<circle cx="203.1" cy="258.2" r="0.75" fill="#3d7a3a"/>
<circle cx="212.45" cy="268" r="0.75" fill="#3d7a3a"/>
<circle cx="193.7" cy="281.8" r="0.75" fill="#3d7a3a"/>
<circle cx="203.1" cy="260.6" r="0.75" fill="#3d7a3a"/>
<circle cx="212.45" cy="270.4" r="0.75" fill="#3d7a3a"/>
<circle cx="193.7" cy="281.8" r="0.75" fill="#3d7a3a"/>
<circle cx="203.1" cy="263" r="0.75" fill="#3d7a3a"/>
<circle cx="212.45" cy="272.9" r="0.75" fill="#3d7a3a"/>
<circle cx="193.7" cy="281.8" r="0.75" fill="#3d7a3a"/>
<circle cx="203.1" cy="264.7" r="0.75" fill="#3d7a3a"/>
<circle cx="212.45" cy="272" r="0.75" fill="#3d7a3a"/>
<circle cx="193.7" cy="281.8" r="0.75" fill="#3d7a3a"/>
<circle cx="203.1" cy="271.2" r="0.75" fill="#3d7a3a"/>
<circle cx="212.45" cy="277.8" r="0.75" fill="#3d7a3a"/>
<polyline points="193.7,220.9 193.7,217.5 212.45,217.5 212.45,220.9" stroke="#555" stroke-width="0.75" fill="none"/>
<text transform="translate(203.07,216.9)" font-size="5.4" text-anchor="middle" fill="#333" font-weight="bold">**</text>
<polyline points="203.4,232.6 203.4,229.2 212.45,229.2 212.45,232.6" stroke="#555" stroke-width="0.75" fill="none"/>
<text transform="translate(207.93,228.6)" font-size="5.4" text-anchor="middle" fill="#333" font-weight="bold">****</text>
<polyline points="193.7,243.4 193.7,240 202.8,240 202.8,243.4" stroke="#555" stroke-width="0.75" fill="none"/>
<text transform="translate(198.25,239.4)" font-size="5.4" text-anchor="middle" fill="#333" font-weight="bold">***</text>
<text transform="translate(196.1,293.3) rotate(-45)" font-size="6" text-anchor="end" fill="#222" stroke="#222" stroke-width="0.12">Mock</text>
<text transform="translate(205.5,293.3) rotate(-45)" font-size="6" text-anchor="end" fill="#222" stroke="#222" stroke-width="0.12">3T40</text>
<text transform="translate(214.85,293.3) rotate(-45)" font-size="6" text-anchor="end" fill="#222" stroke="#222" stroke-width="0.12">3T40 + Das.</text>
<text transform="translate(275.8,196.3)" font-size="8.2" text-anchor="middle" fill="#222" stroke="#222" stroke-width="0.12">CD58</text>
<line x1="260.1" y1="229.2" x2="260.1" y2="283.7" stroke="#222" stroke-width="1.3"/>
<line x1="257.5" y1="283.2" x2="260.1" y2="283.2" stroke="#222" stroke-width="1"/>
<text transform="translate(254.2,285.2)" font-size="6.1" text-anchor="end" fill="#222" stroke="#222" stroke-width="0.12">0</text>
<line x1="257.5" y1="265.9" x2="260.1" y2="265.9" stroke="#222" stroke-width="1"/>
<text transform="translate(254.2,267.9)" font-size="6.1" text-anchor="end" fill="#222" stroke="#222" stroke-width="0.12">5000</text>
<line x1="257.5" y1="248.6" x2="260.1" y2="248.6" stroke="#222" stroke-width="1"/>
<text transform="translate(254.2,250.6)" font-size="6.1" text-anchor="end" fill="#222" stroke="#222" stroke-width="0.12">10000</text>
<line x1="257.5" y1="231.3" x2="260.1" y2="231.3" stroke="#222" stroke-width="1"/>
<text transform="translate(254.2,233.3)" font-size="6.1" text-anchor="end" fill="#222" stroke="#222" stroke-width="0.12">15000</text>
<line x1="259.5" y1="283.2" x2="290.5" y2="283.2" stroke="#222" stroke-width="1.3"/>
<line x1="266.25" y1="283.2" x2="266.25" y2="285.2" stroke="#222" stroke-width="0.7"/>
<line x1="275.6" y1="283.2" x2="275.6" y2="285.2" stroke="#222" stroke-width="0.7"/>
<line x1="285.25" y1="283.2" x2="285.25" y2="285.2" stroke="#222" stroke-width="0.7"/>
<text transform="translate(231,256.1) rotate(-90)" font-size="8" text-anchor="middle" fill="#222" font-weight="bold" textLength="8.9" lengthAdjust="spacingAndGlyphs">MFI</text>
<line x1="275.6" y1="240.5" x2="285.25" y2="246.6" stroke="#5b9457" stroke-width="0.75"/>
<line x1="275.6" y1="242.5" x2="285.25" y2="248.3" stroke="#5b9457" stroke-width="0.75"/>
<line x1="275.6" y1="246.2" x2="285.25" y2="256.6" stroke="#5b9457" stroke-width="0.75"/>
<line x1="275.6" y1="250.4" x2="285.25" y2="256" stroke="#5b9457" stroke-width="0.75"/>
<line x1="275.6" y1="251.8" x2="285.25" y2="260" stroke="#5b9457" stroke-width="0.75"/>
<line x1="275.6" y1="255.6" x2="285.25" y2="263" stroke="#5b9457" stroke-width="0.75"/>
<line x1="275.6" y1="268.7" x2="285.25" y2="278" stroke="#5b9457" stroke-width="0.75"/>
<line x1="266.25" y1="279.5" x2="275.6" y2="240.5" stroke="#4cb848" stroke-width="0.8"/>
<line x1="266.25" y1="279.5" x2="275.6" y2="242.5" stroke="#4cb848" stroke-width="0.8"/>
<line x1="266.25" y1="279.5" x2="275.6" y2="246.2" stroke="#4cb848" stroke-width="0.8"/>
<line x1="266.25" y1="279.5" x2="275.6" y2="250.4" stroke="#4cb848" stroke-width="0.8"/>
<line x1="266.25" y1="279.5" x2="275.6" y2="251.8" stroke="#4cb848" stroke-width="0.8"/>
<line x1="266.25" y1="279.5" x2="275.6" y2="255.6" stroke="#4cb848" stroke-width="0.8"/>
<line x1="266.25" y1="279.5" x2="275.6" y2="268.7" stroke="#4cb848" stroke-width="0.8"/>
<circle cx="266.25" cy="279.5" r="0.75" fill="#3d7a3a"/>
<circle cx="275.6" cy="240.5" r="0.75" fill="#3d7a3a"/>
<circle cx="285.25" cy="246.6" r="0.75" fill="#3d7a3a"/>
<circle cx="266.25" cy="279.5" r="0.75" fill="#3d7a3a"/>
<circle cx="275.6" cy="242.5" r="0.75" fill="#3d7a3a"/>
<circle cx="285.25" cy="248.3" r="0.75" fill="#3d7a3a"/>
<circle cx="266.25" cy="279.5" r="0.75" fill="#3d7a3a"/>
<circle cx="275.6" cy="246.2" r="0.75" fill="#3d7a3a"/>
<circle cx="285.25" cy="256.6" r="0.75" fill="#3d7a3a"/>
<circle cx="266.25" cy="279.5" r="0.75" fill="#3d7a3a"/>
<circle cx="275.6" cy="250.4" r="0.75" fill="#3d7a3a"/>
<circle cx="285.25" cy="256" r="0.75" fill="#3d7a3a"/>
<circle cx="266.25" cy="279.5" r="0.75" fill="#3d7a3a"/>
<circle cx="275.6" cy="251.8" r="0.75" fill="#3d7a3a"/>
<circle cx="285.25" cy="260" r="0.75" fill="#3d7a3a"/>
<circle cx="266.25" cy="279.5" r="0.75" fill="#3d7a3a"/>
<circle cx="275.6" cy="255.6" r="0.75" fill="#3d7a3a"/>
<circle cx="285.25" cy="263" r="0.75" fill="#3d7a3a"/>
<circle cx="266.25" cy="279.5" r="0.75" fill="#3d7a3a"/>
<circle cx="275.6" cy="268.7" r="0.75" fill="#3d7a3a"/>
<circle cx="285.25" cy="278" r="0.75" fill="#3d7a3a"/>
<polyline points="266.25,214.6 266.25,211.2 285.25,211.2 285.25,214.6" stroke="#555" stroke-width="0.75" fill="none"/>
<text transform="translate(275.75,210.6)" font-size="5.4" text-anchor="middle" fill="#333" font-weight="bold">**</text>
<polyline points="275.9,226.4 275.9,223 285.25,223 285.25,226.4" stroke="#555" stroke-width="0.75" fill="none"/>
<text transform="translate(280.58,222.4)" font-size="5.4" text-anchor="middle" fill="#333" font-weight="bold">**</text>
<polyline points="266.25,237.1 266.25,233.7 275.3,233.7 275.3,237.1" stroke="#555" stroke-width="0.75" fill="none"/>
<text transform="translate(270.77,233.1)" font-size="5.4" text-anchor="middle" fill="#333" font-weight="bold">****</text>
<text transform="translate(268.65,293.3) rotate(-45)" font-size="6" text-anchor="end" fill="#222" stroke="#222" stroke-width="0.12">Mock</text>
<text transform="translate(278,293.3) rotate(-45)" font-size="6" text-anchor="end" fill="#222" stroke="#222" stroke-width="0.12">3T40</text>
<text transform="translate(287.65,293.3) rotate(-45)" font-size="6" text-anchor="end" fill="#222" stroke="#222" stroke-width="0.12">3T40 + Das.</text>
<text transform="translate(345.05,196.3)" font-size="8.2" text-anchor="middle" fill="#222" stroke="#222" stroke-width="0.12">CD70</text>
<line x1="329.7" y1="229.2" x2="329.7" y2="283.7" stroke="#222" stroke-width="1.3"/>
<line x1="327.1" y1="283.2" x2="329.7" y2="283.2" stroke="#222" stroke-width="1"/>
<text transform="translate(323.8,285.2)" font-size="6.1" text-anchor="end" fill="#222" stroke="#222" stroke-width="0.12">0</text>
<line x1="327.1" y1="265.9" x2="329.7" y2="265.9" stroke="#222" stroke-width="1"/>
<text transform="translate(323.8,267.9)" font-size="6.1" text-anchor="end" fill="#222" stroke="#222" stroke-width="0.12">2000</text>
<line x1="327.1" y1="248.6" x2="329.7" y2="248.6" stroke="#222" stroke-width="1"/>
<text transform="translate(323.8,250.6)" font-size="6.1" text-anchor="end" fill="#222" stroke="#222" stroke-width="0.12">4000</text>
<line x1="327.1" y1="231.3" x2="329.7" y2="231.3" stroke="#222" stroke-width="1"/>
<text transform="translate(323.8,233.3)" font-size="6.1" text-anchor="end" fill="#222" stroke="#222" stroke-width="0.12">6000</text>
<line x1="329.1" y1="283.2" x2="360.1" y2="283.2" stroke="#222" stroke-width="1.3"/>
<line x1="335.65" y1="283.2" x2="335.65" y2="285.2" stroke="#222" stroke-width="0.7"/>
<line x1="344.85" y1="283.2" x2="344.85" y2="285.2" stroke="#222" stroke-width="0.7"/>
<line x1="354.1" y1="283.2" x2="354.1" y2="285.2" stroke="#222" stroke-width="0.7"/>
<text transform="translate(303.8,256.1) rotate(-90)" font-size="8" text-anchor="middle" fill="#222" font-weight="bold" textLength="8.9" lengthAdjust="spacingAndGlyphs">MFI</text>
<line x1="344.85" y1="237.4" x2="354.1" y2="241.5" stroke="#5b9457" stroke-width="0.75"/>
<line x1="344.85" y1="253.3" x2="354.1" y2="251.6" stroke="#5b9457" stroke-width="0.75"/>
<line x1="344.85" y1="254" x2="354.1" y2="261.4" stroke="#5b9457" stroke-width="0.75"/>
<line x1="344.85" y1="255.2" x2="354.1" y2="262.2" stroke="#5b9457" stroke-width="0.75"/>
<line x1="344.85" y1="255.9" x2="354.1" y2="262.8" stroke="#5b9457" stroke-width="0.75"/>
<line x1="344.85" y1="268" x2="354.1" y2="262" stroke="#5b9457" stroke-width="0.75"/>
<line x1="344.85" y1="280.5" x2="354.1" y2="278.6" stroke="#5b9457" stroke-width="0.75"/>
<line x1="344.85" y1="281.6" x2="354.1" y2="281.6" stroke="#5b9457" stroke-width="0.75"/>
<line x1="335.65" y1="281.8" x2="344.85" y2="237.4" stroke="#4cb848" stroke-width="0.8"/>
<line x1="335.65" y1="281.8" x2="344.85" y2="253.3" stroke="#4cb848" stroke-width="0.8"/>
<line x1="335.65" y1="281.8" x2="344.85" y2="254" stroke="#4cb848" stroke-width="0.8"/>
<line x1="335.65" y1="281.8" x2="344.85" y2="255.2" stroke="#4cb848" stroke-width="0.8"/>
<line x1="335.65" y1="281.8" x2="344.85" y2="255.9" stroke="#4cb848" stroke-width="0.8"/>
<line x1="335.65" y1="281.8" x2="344.85" y2="268" stroke="#4cb848" stroke-width="0.8"/>
<line x1="335.65" y1="281.8" x2="344.85" y2="280.5" stroke="#4cb848" stroke-width="0.8"/>
<line x1="335.65" y1="281.8" x2="344.85" y2="281.6" stroke="#4cb848" stroke-width="0.8"/>
<circle cx="335.65" cy="281.8" r="0.75" fill="#3d7a3a"/>
<circle cx="344.85" cy="237.4" r="0.75" fill="#3d7a3a"/>
<circle cx="354.1" cy="241.5" r="0.75" fill="#3d7a3a"/>
<circle cx="335.65" cy="281.8" r="0.75" fill="#3d7a3a"/>
<circle cx="344.85" cy="253.3" r="0.75" fill="#3d7a3a"/>
<circle cx="354.1" cy="251.6" r="0.75" fill="#3d7a3a"/>
<circle cx="335.65" cy="281.8" r="0.75" fill="#3d7a3a"/>
<circle cx="344.85" cy="254" r="0.75" fill="#3d7a3a"/>
<circle cx="354.1" cy="261.4" r="0.75" fill="#3d7a3a"/>
<circle cx="335.65" cy="281.8" r="0.75" fill="#3d7a3a"/>
<circle cx="344.85" cy="255.2" r="0.75" fill="#3d7a3a"/>
<circle cx="354.1" cy="262.2" r="0.75" fill="#3d7a3a"/>
<circle cx="335.65" cy="281.8" r="0.75" fill="#3d7a3a"/>
<circle cx="344.85" cy="255.9" r="0.75" fill="#3d7a3a"/>
<circle cx="354.1" cy="262.8" r="0.75" fill="#3d7a3a"/>
<circle cx="335.65" cy="281.8" r="0.75" fill="#3d7a3a"/>
<circle cx="344.85" cy="268" r="0.75" fill="#3d7a3a"/>
<circle cx="354.1" cy="262" r="0.75" fill="#3d7a3a"/>
<circle cx="335.65" cy="281.8" r="0.75" fill="#3d7a3a"/>
<circle cx="344.85" cy="280.5" r="0.75" fill="#3d7a3a"/>
<circle cx="354.1" cy="278.6" r="0.75" fill="#3d7a3a"/>
<circle cx="335.65" cy="281.8" r="0.75" fill="#3d7a3a"/>
<circle cx="344.85" cy="281.6" r="0.75" fill="#3d7a3a"/>
<circle cx="354.1" cy="281.6" r="0.75" fill="#3d7a3a"/>
<polyline points="335.65,223.4 335.65,220 354.1,220 354.1,223.4" stroke="#555" stroke-width="0.75" fill="none"/>
<text transform="translate(344.88,219.4)" font-size="5.4" text-anchor="middle" fill="#333" font-weight="bold">*</text>
<polyline points="335.65,235.1 335.65,231.7 344.55,231.7 344.55,235.1" stroke="#555" stroke-width="0.75" fill="none"/>
<text transform="translate(340.1,231.1)" font-size="5.4" text-anchor="middle" fill="#333" font-weight="bold">*</text>
<polyline points="345.15,235.1 345.15,231.7 354.1,231.7 354.1,235.1" stroke="#555" stroke-width="0.75" fill="none"/>
<text transform="translate(349.62,230.3)" font-size="5.1" text-anchor="middle" fill="#333" stroke="#333" stroke-width="0.12">ns</text>
<text transform="translate(338.05,293.3) rotate(-45)" font-size="6" text-anchor="end" fill="#222" stroke="#222" stroke-width="0.12">Mock</text>
<text transform="translate(347.25,293.3) rotate(-45)" font-size="6" text-anchor="end" fill="#222" stroke="#222" stroke-width="0.12">3T40</text>
<text transform="translate(356.5,293.3) rotate(-45)" font-size="6" text-anchor="end" fill="#222" stroke="#222" stroke-width="0.12">3T40 + Das.</text>
<text transform="translate(57.7,348.9)" font-size="8.2" text-anchor="middle" fill="#222" stroke="#222" stroke-width="0.12">CD80</text>
<line x1="42" y1="380.2" x2="42" y2="434.7" stroke="#222" stroke-width="1.3"/>
<line x1="39.4" y1="434.2" x2="42" y2="434.2" stroke="#222" stroke-width="1"/>
<text transform="translate(36.1,436.2)" font-size="6.1" text-anchor="end" fill="#222" stroke="#222" stroke-width="0.12">0</text>
<line x1="39.4" y1="424.06" x2="42" y2="424.06" stroke="#222" stroke-width="1"/>
<text transform="translate(36.1,426.06)" font-size="6.1" text-anchor="end" fill="#222" stroke="#222" stroke-width="0.12">1000</text>
<line x1="39.4" y1="413.92" x2="42" y2="413.92" stroke="#222" stroke-width="1"/>
<text transform="translate(36.1,415.92)" font-size="6.1" text-anchor="end" fill="#222" stroke="#222" stroke-width="0.12">2000</text>
<line x1="39.4" y1="403.78" x2="42" y2="403.78" stroke="#222" stroke-width="1"/>
<text transform="translate(36.1,405.78)" font-size="6.1" text-anchor="end" fill="#222" stroke="#222" stroke-width="0.12">3000</text>
<line x1="39.4" y1="393.64" x2="42" y2="393.64" stroke="#222" stroke-width="1"/>
<text transform="translate(36.1,395.64)" font-size="6.1" text-anchor="end" fill="#222" stroke="#222" stroke-width="0.12">4000</text>
<line x1="39.4" y1="383.5" x2="42" y2="383.5" stroke="#222" stroke-width="1"/>
<text transform="translate(36.1,385.5)" font-size="6.1" text-anchor="end" fill="#222" stroke="#222" stroke-width="0.12">5000</text>
<line x1="41.4" y1="434.2" x2="72.4" y2="434.2" stroke="#222" stroke-width="1.3"/>
<line x1="48.3" y1="434.2" x2="48.3" y2="436.2" stroke="#222" stroke-width="0.7"/>
<line x1="57.5" y1="434.2" x2="57.5" y2="436.2" stroke="#222" stroke-width="0.7"/>
<line x1="66.8" y1="434.2" x2="66.8" y2="436.2" stroke="#222" stroke-width="0.7"/>
<text transform="translate(16.3,407.4) rotate(-90)" font-size="8" text-anchor="middle" fill="#222" font-weight="bold" textLength="8.9" lengthAdjust="spacingAndGlyphs">MFI</text>
<line x1="57.5" y1="395" x2="66.8" y2="413.6" stroke="#5b9457" stroke-width="0.75"/>
<line x1="57.5" y1="408.6" x2="66.8" y2="415.7" stroke="#5b9457" stroke-width="0.75"/>
<line x1="57.5" y1="410.7" x2="66.8" y2="417.9" stroke="#5b9457" stroke-width="0.75"/>
<line x1="57.5" y1="413" x2="66.8" y2="419.3" stroke="#5b9457" stroke-width="0.75"/>
<line x1="57.5" y1="415" x2="66.8" y2="423.1" stroke="#5b9457" stroke-width="0.75"/>
<line x1="57.5" y1="416.4" x2="66.8" y2="419.3" stroke="#5b9457" stroke-width="0.75"/>
<line x1="57.5" y1="422.9" x2="66.8" y2="427.1" stroke="#5b9457" stroke-width="0.75"/>
<line x1="57.5" y1="431.1" x2="66.8" y2="432.1" stroke="#5b9457" stroke-width="0.75"/>
<line x1="48.3" y1="433" x2="57.5" y2="395" stroke="#4cb848" stroke-width="0.8"/>
<line x1="48.3" y1="433" x2="57.5" y2="408.6" stroke="#4cb848" stroke-width="0.8"/>
<line x1="48.3" y1="433" x2="57.5" y2="410.7" stroke="#4cb848" stroke-width="0.8"/>
<line x1="48.3" y1="433" x2="57.5" y2="413" stroke="#4cb848" stroke-width="0.8"/>
<line x1="48.3" y1="433" x2="57.5" y2="415" stroke="#4cb848" stroke-width="0.8"/>
<line x1="48.3" y1="433" x2="57.5" y2="416.4" stroke="#4cb848" stroke-width="0.8"/>
<line x1="48.3" y1="433" x2="57.5" y2="422.9" stroke="#4cb848" stroke-width="0.8"/>
<line x1="48.3" y1="433" x2="57.5" y2="431.1" stroke="#4cb848" stroke-width="0.8"/>
<circle cx="48.3" cy="433" r="0.75" fill="#3d7a3a"/>
<circle cx="57.5" cy="395" r="0.75" fill="#3d7a3a"/>
<circle cx="66.8" cy="413.6" r="0.75" fill="#3d7a3a"/>
<circle cx="48.3" cy="433" r="0.75" fill="#3d7a3a"/>
<circle cx="57.5" cy="408.6" r="0.75" fill="#3d7a3a"/>
<circle cx="66.8" cy="415.7" r="0.75" fill="#3d7a3a"/>
<circle cx="48.3" cy="433" r="0.75" fill="#3d7a3a"/>
<circle cx="57.5" cy="410.7" r="0.75" fill="#3d7a3a"/>
<circle cx="66.8" cy="417.9" r="0.75" fill="#3d7a3a"/>
<circle cx="48.3" cy="433" r="0.75" fill="#3d7a3a"/>
<circle cx="57.5" cy="413" r="0.75" fill="#3d7a3a"/>
<circle cx="66.8" cy="419.3" r="0.75" fill="#3d7a3a"/>
<circle cx="48.3" cy="433" r="0.75" fill="#3d7a3a"/>
<circle cx="57.5" cy="415" r="0.75" fill="#3d7a3a"/>
<circle cx="66.8" cy="423.1" r="0.75" fill="#3d7a3a"/>
<circle cx="48.3" cy="433" r="0.75" fill="#3d7a3a"/>
<circle cx="57.5" cy="416.4" r="0.75" fill="#3d7a3a"/>
<circle cx="66.8" cy="419.3" r="0.75" fill="#3d7a3a"/>
<circle cx="48.3" cy="433" r="0.75" fill="#3d7a3a"/>
<circle cx="57.5" cy="422.9" r="0.75" fill="#3d7a3a"/>
<circle cx="66.8" cy="427.1" r="0.75" fill="#3d7a3a"/>
<circle cx="48.3" cy="433" r="0.75" fill="#3d7a3a"/>
<circle cx="57.5" cy="431.1" r="0.75" fill="#3d7a3a"/>
<circle cx="66.8" cy="432.1" r="0.75" fill="#3d7a3a"/>
<polyline points="48.3,381.4 48.3,378 66.8,378 66.8,381.4" stroke="#555" stroke-width="0.75" fill="none"/>
<text transform="translate(57.55,377.4)" font-size="5.4" text-anchor="middle" fill="#333" font-weight="bold">**</text>
<polyline points="48.3,392.9 48.3,389.5 57.2,389.5 57.2,392.9" stroke="#555" stroke-width="0.75" fill="none"/>
<text transform="translate(52.75,388.9)" font-size="5.4" text-anchor="middle" fill="#333" font-weight="bold">**</text>
<polyline points="57.8,392.9 57.8,389.5 66.8,389.5 66.8,392.9" stroke="#555" stroke-width="0.75" fill="none"/>
<text transform="translate(62.3,388.9)" font-size="5.4" text-anchor="middle" fill="#333" font-weight="bold">*</text>
<text transform="translate(50.7,444.3) rotate(-45)" font-size="6" text-anchor="end" fill="#222" stroke="#222" stroke-width="0.12">Mock</text>
<text transform="translate(59.9,444.3) rotate(-45)" font-size="6" text-anchor="end" fill="#222" stroke="#222" stroke-width="0.12">3T40</text>
<text transform="translate(69.2,444.3) rotate(-45)" font-size="6" text-anchor="end" fill="#222" stroke="#222" stroke-width="0.12">3T40 + Das.</text>
<text transform="translate(130.45,348.9)" font-size="8.2" text-anchor="middle" fill="#222" stroke="#222" stroke-width="0.12">CD86</text>
<line x1="115" y1="380.2" x2="115" y2="434.7" stroke="#222" stroke-width="1.3"/>
<line x1="112.4" y1="434.2" x2="115" y2="434.2" stroke="#222" stroke-width="1"/>
<text transform="translate(109.1,436.2)" font-size="6.1" text-anchor="end" fill="#222" stroke="#222" stroke-width="0.12">0</text>
<line x1="112.4" y1="417.23" x2="115" y2="417.23" stroke="#222" stroke-width="1"/>
<text transform="translate(109.1,419.23)" font-size="6.1" text-anchor="end" fill="#222" stroke="#222" stroke-width="0.12">200</text>
<line x1="112.4" y1="400.27" x2="115" y2="400.27" stroke="#222" stroke-width="1"/>
<text transform="translate(109.1,402.27)" font-size="6.1" text-anchor="end" fill="#222" stroke="#222" stroke-width="0.12">400</text>
<line x1="112.4" y1="383.3" x2="115" y2="383.3" stroke="#222" stroke-width="1"/>
<text transform="translate(109.1,385.3)" font-size="6.1" text-anchor="end" fill="#222" stroke="#222" stroke-width="0.12">600</text>
<line x1="114.4" y1="434.2" x2="145.4" y2="434.2" stroke="#222" stroke-width="1.3"/>
<line x1="120.9" y1="434.2" x2="120.9" y2="436.2" stroke="#222" stroke-width="0.7"/>
<line x1="130.25" y1="434.2" x2="130.25" y2="436.2" stroke="#222" stroke-width="0.7"/>
<line x1="139.35" y1="434.2" x2="139.35" y2="436.2" stroke="#222" stroke-width="0.7"/>
<text transform="translate(92.5,407.4) rotate(-90)" font-size="8" text-anchor="middle" fill="#222" font-weight="bold" textLength="8.9" lengthAdjust="spacingAndGlyphs">MFI</text>
<line x1="130.25" y1="388.8" x2="139.35" y2="390" stroke="#5b9457" stroke-width="0.75"/>
<line x1="130.25" y1="401.8" x2="139.35" y2="391.7" stroke="#5b9457" stroke-width="0.75"/>
<line x1="130.25" y1="401.8" x2="139.35" y2="407.4" stroke="#5b9457" stroke-width="0.75"/>
<line x1="130.25" y1="408.5" x2="139.35" y2="408.5" stroke="#5b9457" stroke-width="0.75"/>
<line x1="130.25" y1="411.9" x2="139.35" y2="402.9" stroke="#5b9457" stroke-width="0.75"/>
<line x1="130.25" y1="422" x2="139.35" y2="417.5" stroke="#5b9457" stroke-width="0.75"/>
<line x1="130.25" y1="432" x2="139.35" y2="432.8" stroke="#5b9457" stroke-width="0.75"/>
<line x1="120.9" y1="433" x2="130.25" y2="388.8" stroke="#4cb848" stroke-width="0.8"/>
<line x1="120.9" y1="433" x2="130.25" y2="401.8" stroke="#4cb848" stroke-width="0.8"/>
<line x1="120.9" y1="433" x2="130.25" y2="401.8" stroke="#4cb848" stroke-width="0.8"/>
<line x1="120.9" y1="433" x2="130.25" y2="408.5" stroke="#4cb848" stroke-width="0.8"/>
<line x1="120.9" y1="433" x2="130.25" y2="411.9" stroke="#4cb848" stroke-width="0.8"/>
<line x1="120.9" y1="433" x2="130.25" y2="422" stroke="#4cb848" stroke-width="0.8"/>
<line x1="120.9" y1="433" x2="130.25" y2="432" stroke="#4cb848" stroke-width="0.8"/>
<circle cx="120.9" cy="433" r="0.75" fill="#3d7a3a"/>
<circle cx="130.25" cy="388.8" r="0.75" fill="#3d7a3a"/>
<circle cx="139.35" cy="390" r="0.75" fill="#3d7a3a"/>
<circle cx="120.9" cy="433" r="0.75" fill="#3d7a3a"/>
<circle cx="130.25" cy="401.8" r="0.75" fill="#3d7a3a"/>
<circle cx="139.35" cy="391.7" r="0.75" fill="#3d7a3a"/>
<circle cx="120.9" cy="433" r="0.75" fill="#3d7a3a"/>
<circle cx="130.25" cy="401.8" r="0.75" fill="#3d7a3a"/>
<circle cx="139.35" cy="407.4" r="0.75" fill="#3d7a3a"/>
<circle cx="120.9" cy="433" r="0.75" fill="#3d7a3a"/>
<circle cx="130.25" cy="408.5" r="0.75" fill="#3d7a3a"/>
<circle cx="139.35" cy="408.5" r="0.75" fill="#3d7a3a"/>
<circle cx="120.9" cy="433" r="0.75" fill="#3d7a3a"/>
<circle cx="130.25" cy="411.9" r="0.75" fill="#3d7a3a"/>
<circle cx="139.35" cy="402.9" r="0.75" fill="#3d7a3a"/>
<circle cx="120.9" cy="433" r="0.75" fill="#3d7a3a"/>
<circle cx="130.25" cy="422" r="0.75" fill="#3d7a3a"/>
<circle cx="139.35" cy="417.5" r="0.75" fill="#3d7a3a"/>
<circle cx="120.9" cy="433" r="0.75" fill="#3d7a3a"/>
<circle cx="130.25" cy="432" r="0.75" fill="#3d7a3a"/>
<circle cx="139.35" cy="432.8" r="0.75" fill="#3d7a3a"/>
<polyline points="120.9,374.9 120.9,371.5 139.35,371.5 139.35,374.9" stroke="#555" stroke-width="0.75" fill="none"/>
<text transform="translate(130.12,370.9)" font-size="5.4" text-anchor="middle" fill="#333" font-weight="bold">**</text>
<polyline points="120.9,385.7 120.9,382.3 129.95,382.3 129.95,385.7" stroke="#555" stroke-width="0.75" fill="none"/>
<text transform="translate(125.42,381.7)" font-size="5.4" text-anchor="middle" fill="#333" font-weight="bold">*</text>
<polyline points="130.55,385.7 130.55,382.3 139.35,382.3 139.35,385.7" stroke="#555" stroke-width="0.75" fill="none"/>
<text transform="translate(134.95,380.9)" font-size="5.1" text-anchor="middle" fill="#333" stroke="#333" stroke-width="0.12">ns</text>
<text transform="translate(123.3,444.3) rotate(-45)" font-size="6" text-anchor="end" fill="#222" stroke="#222" stroke-width="0.12">Mock</text>
<text transform="translate(132.65,444.3) rotate(-45)" font-size="6" text-anchor="end" fill="#222" stroke="#222" stroke-width="0.12">3T40</text>
<text transform="translate(141.75,444.3) rotate(-45)" font-size="6" text-anchor="end" fill="#222" stroke="#222" stroke-width="0.12">3T40 + Das.</text>
<text transform="translate(203.3,348.9)" font-size="8.2" text-anchor="middle" fill="#222" stroke="#222" stroke-width="0.12">OX-40L</text>
<line x1="187.9" y1="380.2" x2="187.9" y2="434.7" stroke="#222" stroke-width="1.3"/>
<line x1="185.3" y1="434.2" x2="187.9" y2="434.2" stroke="#222" stroke-width="1"/>
<text transform="translate(182,436.2)" font-size="6.1" text-anchor="end" fill="#222" stroke="#222" stroke-width="0.12">0</text>
<line x1="185.3" y1="417.23" x2="187.9" y2="417.23" stroke="#222" stroke-width="1"/>
<text transform="translate(182,419.23)" font-size="6.1" text-anchor="end" fill="#222" stroke="#222" stroke-width="0.12">500</text>
<line x1="185.3" y1="400.27" x2="187.9" y2="400.27" stroke="#222" stroke-width="1"/>
<text transform="translate(182,402.27)" font-size="6.1" text-anchor="end" fill="#222" stroke="#222" stroke-width="0.12">1000</text>
<line x1="185.3" y1="383.3" x2="187.9" y2="383.3" stroke="#222" stroke-width="1"/>
<text transform="translate(182,385.3)" font-size="6.1" text-anchor="end" fill="#222" stroke="#222" stroke-width="0.12">1500</text>
<line x1="187.3" y1="434.2" x2="218.3" y2="434.2" stroke="#222" stroke-width="1.3"/>
<line x1="193.7" y1="434.2" x2="193.7" y2="436.2" stroke="#222" stroke-width="0.7"/>
<line x1="203.1" y1="434.2" x2="203.1" y2="436.2" stroke="#222" stroke-width="0.7"/>
<line x1="212.45" y1="434.2" x2="212.45" y2="436.2" stroke="#222" stroke-width="0.7"/>
<text transform="translate(162.1,407.4) rotate(-90)" font-size="8" text-anchor="middle" fill="#222" font-weight="bold" textLength="8.9" lengthAdjust="spacingAndGlyphs">MFI</text>
<line x1="203.1" y1="390.1" x2="212.45" y2="395.1" stroke="#5b9457" stroke-width="0.75"/>
<line x1="203.1" y1="396.2" x2="212.45" y2="387.9" stroke="#5b9457" stroke-width="0.75"/>
<line x1="203.1" y1="398" x2="212.45" y2="401.8" stroke="#5b9457" stroke-width="0.75"/>
<line x1="203.1" y1="401.8" x2="212.45" y2="407.4" stroke="#5b9457" stroke-width="0.75"/>
<line x1="203.1" y1="407.4" x2="212.45" y2="414.2" stroke="#5b9457" stroke-width="0.75"/>
<line x1="203.1" y1="417.5" x2="212.45" y2="424.3" stroke="#5b9457" stroke-width="0.75"/>
<line x1="193.7" y1="428" x2="203.1" y2="390.1" stroke="#4cb848" stroke-width="0.8"/>
<line x1="193.7" y1="429" x2="203.1" y2="396.2" stroke="#4cb848" stroke-width="0.8"/>
<line x1="193.7" y1="430" x2="203.1" y2="398" stroke="#4cb848" stroke-width="0.8"/>
<line x1="193.7" y1="428" x2="203.1" y2="401.8" stroke="#4cb848" stroke-width="0.8"/>
<line x1="193.7" y1="431" x2="203.1" y2="407.4" stroke="#4cb848" stroke-width="0.8"/>
<line x1="193.7" y1="431" x2="203.1" y2="417.5" stroke="#4cb848" stroke-width="0.8"/>
<circle cx="193.7" cy="428" r="0.75" fill="#3d7a3a"/>
<circle cx="203.1" cy="390.1" r="0.75" fill="#3d7a3a"/>
<circle cx="212.45" cy="395.1" r="0.75" fill="#3d7a3a"/>
<circle cx="193.7" cy="429" r="0.75" fill="#3d7a3a"/>
<circle cx="203.1" cy="396.2" r="0.75" fill="#3d7a3a"/>
<circle cx="212.45" cy="387.9" r="0.75" fill="#3d7a3a"/>
<circle cx="193.7" cy="430" r="0.75" fill="#3d7a3a"/>
<circle cx="203.1" cy="398" r="0.75" fill="#3d7a3a"/>
<circle cx="212.45" cy="401.8" r="0.75" fill="#3d7a3a"/>
<circle cx="193.7" cy="428" r="0.75" fill="#3d7a3a"/>
<circle cx="203.1" cy="401.8" r="0.75" fill="#3d7a3a"/>
<circle cx="212.45" cy="407.4" r="0.75" fill="#3d7a3a"/>
<circle cx="193.7" cy="431" r="0.75" fill="#3d7a3a"/>
<circle cx="203.1" cy="407.4" r="0.75" fill="#3d7a3a"/>
<circle cx="212.45" cy="414.2" r="0.75" fill="#3d7a3a"/>
<circle cx="193.7" cy="431" r="0.75" fill="#3d7a3a"/>
<circle cx="203.1" cy="417.5" r="0.75" fill="#3d7a3a"/>
<circle cx="212.45" cy="424.3" r="0.75" fill="#3d7a3a"/>
<polyline points="193.7,363.2 193.7,359.8 212.45,359.8 212.45,363.2" stroke="#555" stroke-width="0.75" fill="none"/>
<text transform="translate(203.07,359.2)" font-size="5.4" text-anchor="middle" fill="#333" font-weight="bold">**</text>
<polyline points="203.4,374.4 203.4,371 212.45,371 212.45,374.4" stroke="#555" stroke-width="0.75" fill="none"/>
<text transform="translate(207.93,369.6)" font-size="5.1" text-anchor="middle" fill="#333" stroke="#333" stroke-width="0.12">ns</text>
<polyline points="193.7,385.7 193.7,382.3 202.8,382.3 202.8,385.7" stroke="#555" stroke-width="0.75" fill="none"/>
<text transform="translate(198.25,381.7)" font-size="5.4" text-anchor="middle" fill="#333" font-weight="bold">***</text>
<text transform="translate(196.1,444.3) rotate(-45)" font-size="6" text-anchor="end" fill="#222" stroke="#222" stroke-width="0.12">Mock</text>
<text transform="translate(205.5,444.3) rotate(-45)" font-size="6" text-anchor="end" fill="#222" stroke="#222" stroke-width="0.12">3T40</text>
<text transform="translate(214.85,444.3) rotate(-45)" font-size="6" text-anchor="end" fill="#222" stroke="#222" stroke-width="0.12">3T40 + Das.</text>
<text transform="translate(275.8,348.9)" font-size="8.2" text-anchor="middle" fill="#222" stroke="#222" stroke-width="0.12">4-1BBL</text>
<line x1="260.1" y1="380.2" x2="260.1" y2="434.7" stroke="#222" stroke-width="1.3"/>
<line x1="257.5" y1="434.2" x2="260.1" y2="434.2" stroke="#222" stroke-width="1"/>
<text transform="translate(254.2,436.2)" font-size="6.1" text-anchor="end" fill="#222" stroke="#222" stroke-width="0.12">0</text>
<line x1="257.5" y1="424.02" x2="260.1" y2="424.02" stroke="#222" stroke-width="1"/>
<text transform="translate(254.2,426.02)" font-size="6.1" text-anchor="end" fill="#222" stroke="#222" stroke-width="0.12">500</text>
<line x1="257.5" y1="413.84" x2="260.1" y2="413.84" stroke="#222" stroke-width="1"/>
<text transform="translate(254.2,415.84)" font-size="6.1" text-anchor="end" fill="#222" stroke="#222" stroke-width="0.12">1000</text>
<line x1="257.5" y1="403.66" x2="260.1" y2="403.66" stroke="#222" stroke-width="1"/>
<text transform="translate(254.2,405.66)" font-size="6.1" text-anchor="end" fill="#222" stroke="#222" stroke-width="0.12">1500</text>
<line x1="257.5" y1="393.48" x2="260.1" y2="393.48" stroke="#222" stroke-width="1"/>
<text transform="translate(254.2,395.48)" font-size="6.1" text-anchor="end" fill="#222" stroke="#222" stroke-width="0.12">2000</text>
<line x1="257.5" y1="383.3" x2="260.1" y2="383.3" stroke="#222" stroke-width="1"/>
<text transform="translate(254.2,385.3)" font-size="6.1" text-anchor="end" fill="#222" stroke="#222" stroke-width="0.12">2500</text>
<line x1="259.5" y1="434.2" x2="290.5" y2="434.2" stroke="#222" stroke-width="1.3"/>
<line x1="266.25" y1="434.2" x2="266.25" y2="436.2" stroke="#222" stroke-width="0.7"/>
<line x1="275.6" y1="434.2" x2="275.6" y2="436.2" stroke="#222" stroke-width="0.7"/>
<line x1="285.25" y1="434.2" x2="285.25" y2="436.2" stroke="#222" stroke-width="0.7"/>
<text transform="translate(234.6,407.4) rotate(-90)" font-size="8" text-anchor="middle" fill="#222" font-weight="bold" textLength="8.9" lengthAdjust="spacingAndGlyphs">MFI</text>
<line x1="275.6" y1="389.5" x2="285.25" y2="397.3" stroke="#5b9457" stroke-width="0.75"/>
<line x1="275.6" y1="395.1" x2="285.25" y2="386.1" stroke="#5b9457" stroke-width="0.75"/>
<line x1="275.6" y1="396.7" x2="285.25" y2="396.2" stroke="#5b9457" stroke-width="0.75"/>
<line x1="275.6" y1="400.7" x2="285.25" y2="401.8" stroke="#5b9457" stroke-width="0.75"/>
<line x1="275.6" y1="406.3" x2="285.25" y2="409.7" stroke="#5b9457" stroke-width="0.75"/>
<line x1="275.6" y1="411.9" x2="285.25" y2="417.5" stroke="#5b9457" stroke-width="0.75"/>
<line x1="266.25" y1="418" x2="275.6" y2="389.5" stroke="#4cb848" stroke-width="0.8"/>
<line x1="266.25" y1="416.4" x2="275.6" y2="395.1" stroke="#4cb848" stroke-width="0.8"/>
<line x1="266.25" y1="419" x2="275.6" y2="396.7" stroke="#4cb848" stroke-width="0.8"/>
<line x1="266.25" y1="420" x2="275.6" y2="400.7" stroke="#4cb848" stroke-width="0.8"/>
<line x1="266.25" y1="421" x2="275.6" y2="406.3" stroke="#4cb848" stroke-width="0.8"/>
<line x1="266.25" y1="423.1" x2="275.6" y2="411.9" stroke="#4cb848" stroke-width="0.8"/>
<circle cx="266.25" cy="418" r="0.75" fill="#3d7a3a"/>
<circle cx="275.6" cy="389.5" r="0.75" fill="#3d7a3a"/>
<circle cx="285.25" cy="397.3" r="0.75" fill="#3d7a3a"/>
<circle cx="266.25" cy="416.4" r="0.75" fill="#3d7a3a"/>
<circle cx="275.6" cy="395.1" r="0.75" fill="#3d7a3a"/>
<circle cx="285.25" cy="386.1" r="0.75" fill="#3d7a3a"/>
<circle cx="266.25" cy="419" r="0.75" fill="#3d7a3a"/>
<circle cx="275.6" cy="396.7" r="0.75" fill="#3d7a3a"/>
<circle cx="285.25" cy="396.2" r="0.75" fill="#3d7a3a"/>
<circle cx="266.25" cy="420" r="0.75" fill="#3d7a3a"/>
<circle cx="275.6" cy="400.7" r="0.75" fill="#3d7a3a"/>
<circle cx="285.25" cy="401.8" r="0.75" fill="#3d7a3a"/>
<circle cx="266.25" cy="421" r="0.75" fill="#3d7a3a"/>
<circle cx="275.6" cy="406.3" r="0.75" fill="#3d7a3a"/>
<circle cx="285.25" cy="409.7" r="0.75" fill="#3d7a3a"/>
<circle cx="266.25" cy="423.1" r="0.75" fill="#3d7a3a"/>
<circle cx="275.6" cy="411.9" r="0.75" fill="#3d7a3a"/>
<circle cx="285.25" cy="417.5" r="0.75" fill="#3d7a3a"/>
<polyline points="266.25,361.4 266.25,358 285.25,358 285.25,361.4" stroke="#555" stroke-width="0.75" fill="none"/>
<text transform="translate(275.75,357.4)" font-size="5.4" text-anchor="middle" fill="#333" font-weight="bold">**</text>
<polyline points="275.9,372.7 275.9,369.3 285.25,369.3 285.25,372.7" stroke="#555" stroke-width="0.75" fill="none"/>
<text transform="translate(280.58,367.9)" font-size="5.1" text-anchor="middle" fill="#333" stroke="#333" stroke-width="0.12">ns</text>
<polyline points="266.25,383.2 266.25,379.8 275.3,379.8 275.3,383.2" stroke="#555" stroke-width="0.75" fill="none"/>
<text transform="translate(270.77,379.2)" font-size="5.4" text-anchor="middle" fill="#333" font-weight="bold">***</text>
<text transform="translate(268.65,444.3) rotate(-45)" font-size="6" text-anchor="end" fill="#222" stroke="#222" stroke-width="0.12">Mock</text>
<text transform="translate(278,444.3) rotate(-45)" font-size="6" text-anchor="end" fill="#222" stroke="#222" stroke-width="0.12">3T40</text>
<text transform="translate(287.65,444.3) rotate(-45)" font-size="6" text-anchor="end" fill="#222" stroke="#222" stroke-width="0.12">3T40 + Das.</text>
<text transform="translate(345.05,348.9)" font-size="8.2" text-anchor="middle" fill="#222" stroke="#222" stroke-width="0.12">CD95</text>
<line x1="329.7" y1="380.2" x2="329.7" y2="434.7" stroke="#222" stroke-width="1.3"/>
<line x1="327.1" y1="434.2" x2="329.7" y2="434.2" stroke="#222" stroke-width="1"/>
<text transform="translate(323.8,436.2)" font-size="6.1" text-anchor="end" fill="#222" stroke="#222" stroke-width="0.12">0</text>
<line x1="327.1" y1="417.23" x2="329.7" y2="417.23" stroke="#222" stroke-width="1"/>
<text transform="translate(323.8,419.23)" font-size="6.1" text-anchor="end" fill="#222" stroke="#222" stroke-width="0.12">1000</text>
<line x1="327.1" y1="400.27" x2="329.7" y2="400.27" stroke="#222" stroke-width="1"/>
<text transform="translate(323.8,402.27)" font-size="6.1" text-anchor="end" fill="#222" stroke="#222" stroke-width="0.12">2000</text>
<line x1="327.1" y1="383.3" x2="329.7" y2="383.3" stroke="#222" stroke-width="1"/>
<text transform="translate(323.8,385.3)" font-size="6.1" text-anchor="end" fill="#222" stroke="#222" stroke-width="0.12">3000</text>
<line x1="329.1" y1="434.2" x2="360.1" y2="434.2" stroke="#222" stroke-width="1.3"/>
<line x1="335.65" y1="434.2" x2="335.65" y2="436.2" stroke="#222" stroke-width="0.7"/>
<line x1="344.85" y1="434.2" x2="344.85" y2="436.2" stroke="#222" stroke-width="0.7"/>
<line x1="354.1" y1="434.2" x2="354.1" y2="436.2" stroke="#222" stroke-width="0.7"/>
<text transform="translate(304,407.4) rotate(-90)" font-size="8" text-anchor="middle" fill="#222" font-weight="bold" textLength="8.9" lengthAdjust="spacingAndGlyphs">MFI</text>
<line x1="344.85" y1="389.5" x2="354.1" y2="389.5" stroke="#5b9457" stroke-width="0.75"/>
<line x1="344.85" y1="394" x2="354.1" y2="407.4" stroke="#5b9457" stroke-width="0.75"/>
<line x1="344.85" y1="402.9" x2="354.1" y2="408.5" stroke="#5b9457" stroke-width="0.75"/>
<line x1="344.85" y1="405.2" x2="354.1" y2="414.2" stroke="#5b9457" stroke-width="0.75"/>
<line x1="344.85" y1="407.4" x2="354.1" y2="414.2" stroke="#5b9457" stroke-width="0.75"/>
<line x1="344.85" y1="419.8" x2="354.1" y2="419.3" stroke="#5b9457" stroke-width="0.75"/>
<line x1="344.85" y1="422" x2="354.1" y2="425.4" stroke="#5b9457" stroke-width="0.75"/>
<line x1="335.65" y1="428" x2="344.85" y2="389.5" stroke="#4cb848" stroke-width="0.8"/>
<line x1="335.65" y1="426" x2="344.85" y2="394" stroke="#4cb848" stroke-width="0.8"/>
<line x1="335.65" y1="430" x2="344.85" y2="402.9" stroke="#4cb848" stroke-width="0.8"/>
<line x1="335.65" y1="429" x2="344.85" y2="405.2" stroke="#4cb848" stroke-width="0.8"/>
<line x1="335.65" y1="431" x2="344.85" y2="407.4" stroke="#4cb848" stroke-width="0.8"/>
<line x1="335.65" y1="421.6" x2="344.85" y2="419.8" stroke="#4cb848" stroke-width="0.8"/>
<line x1="335.65" y1="432.1" x2="344.85" y2="422" stroke="#4cb848" stroke-width="0.8"/>
<circle cx="335.65" cy="428" r="0.75" fill="#3d7a3a"/>
<circle cx="344.85" cy="389.5" r="0.75" fill="#3d7a3a"/>
<circle cx="354.1" cy="389.5" r="0.75" fill="#3d7a3a"/>
<circle cx="335.65" cy="426" r="0.75" fill="#3d7a3a"/>
<circle cx="344.85" cy="394" r="0.75" fill="#3d7a3a"/>
<circle cx="354.1" cy="407.4" r="0.75" fill="#3d7a3a"/>
<circle cx="335.65" cy="430" r="0.75" fill="#3d7a3a"/>
<circle cx="344.85" cy="402.9" r="0.75" fill="#3d7a3a"/>
<circle cx="354.1" cy="408.5" r="0.75" fill="#3d7a3a"/>
<circle cx="335.65" cy="429" r="0.75" fill="#3d7a3a"/>
<circle cx="344.85" cy="405.2" r="0.75" fill="#3d7a3a"/>
<circle cx="354.1" cy="414.2" r="0.75" fill="#3d7a3a"/>
<circle cx="335.65" cy="431" r="0.75" fill="#3d7a3a"/>
<circle cx="344.85" cy="407.4" r="0.75" fill="#3d7a3a"/>
<circle cx="354.1" cy="414.2" r="0.75" fill="#3d7a3a"/>
<circle cx="335.65" cy="421.6" r="0.75" fill="#3d7a3a"/>
<circle cx="344.85" cy="419.8" r="0.75" fill="#3d7a3a"/>
<circle cx="354.1" cy="419.3" r="0.75" fill="#3d7a3a"/>
<circle cx="335.65" cy="432.1" r="0.75" fill="#3d7a3a"/>
<circle cx="344.85" cy="422" r="0.75" fill="#3d7a3a"/>
<circle cx="354.1" cy="425.4" r="0.75" fill="#3d7a3a"/>
<polyline points="335.65,365.5 335.65,362.1 354.1,362.1 354.1,365.5" stroke="#555" stroke-width="0.75" fill="none"/>
<text transform="translate(344.88,361.5)" font-size="5.4" text-anchor="middle" fill="#333" font-weight="bold">**</text>
<polyline points="345.15,375.6 345.15,372.2 354.1,372.2 354.1,375.6" stroke="#555" stroke-width="0.75" fill="none"/>
<text transform="translate(349.62,371.6)" font-size="5.4" text-anchor="middle" fill="#333" font-weight="bold">*</text>
<polyline points="335.65,386.6 335.65,383.2 344.55,383.2 344.55,386.6" stroke="#555" stroke-width="0.75" fill="none"/>
<text transform="translate(340.1,382.6)" font-size="5.4" text-anchor="middle" fill="#333" font-weight="bold">***</text>
<text transform="translate(338.05,444.3) rotate(-45)" font-size="6" text-anchor="end" fill="#222" stroke="#222" stroke-width="0.12">Mock</text>
<text transform="translate(347.25,444.3) rotate(-45)" font-size="6" text-anchor="end" fill="#222" stroke="#222" stroke-width="0.12">3T40</text>
<text transform="translate(356.5,444.3) rotate(-45)" font-size="6" text-anchor="end" fill="#222" stroke="#222" stroke-width="0.12">3T40 + Das.</text>
<text transform="translate(458.5,195.8)" font-size="8.4" text-anchor="middle" fill="#222" stroke="#222" stroke-width="0.12">CD25</text>
<line x1="403.4" y1="207" x2="403.4" y2="283.4" stroke="#222" stroke-width="1.3"/>
<line x1="400.8" y1="282.9" x2="403.4" y2="282.9" stroke="#222" stroke-width="1"/>
<text transform="translate(398.5,285.1)" font-size="6.4" text-anchor="end" fill="#222" stroke="#222" stroke-width="0.12">0</text>
<line x1="400.8" y1="268.22" x2="403.4" y2="268.22" stroke="#222" stroke-width="1"/>
<text transform="translate(398.5,270.42)" font-size="6.4" text-anchor="end" fill="#222" stroke="#222" stroke-width="0.12">20</text>
<line x1="400.8" y1="253.54" x2="403.4" y2="253.54" stroke="#222" stroke-width="1"/>
<text transform="translate(398.5,255.74)" font-size="6.4" text-anchor="end" fill="#222" stroke="#222" stroke-width="0.12">40</text>
<line x1="400.8" y1="238.86" x2="403.4" y2="238.86" stroke="#222" stroke-width="1"/>
<text transform="translate(398.5,241.06)" font-size="6.4" text-anchor="end" fill="#222" stroke="#222" stroke-width="0.12">60</text>
<line x1="400.8" y1="224.18" x2="403.4" y2="224.18" stroke="#222" stroke-width="1"/>
<text transform="translate(398.5,226.38)" font-size="6.4" text-anchor="end" fill="#222" stroke="#222" stroke-width="0.12">80</text>
<line x1="400.8" y1="209.5" x2="403.4" y2="209.5" stroke="#222" stroke-width="1"/>
<text transform="translate(398.5,211.7)" font-size="6.4" text-anchor="end" fill="#222" stroke="#222" stroke-width="0.12">100</text>
<text transform="translate(381.4,245.5) rotate(-90)" font-size="7.4" text-anchor="middle" fill="#222" font-weight="bold" textLength="23.2" lengthAdjust="spacingAndGlyphs">% of CD4</text>
<circle cx="409" cy="281.8" r="1.3" fill="#222"/>
<circle cx="411" cy="281.43" r="1.3" fill="#222"/>
<circle cx="413" cy="281.73" r="1.3" fill="#222"/>
<circle cx="415" cy="281.58" r="1.3" fill="#222"/>
<line x1="412" y1="282.9" x2="412" y2="284.9" stroke="#222" stroke-width="0.7"/>
<text transform="translate(415.6,293.5) rotate(-45) scale(0.7,1)" font-size="8" text-anchor="end" fill="#222" stroke="#222" stroke-width="0.12">Unstim.</text>
<rect x="421.2" y="235.48" width="8" height="47.42" fill="#30a6df"/>
<line x1="425.2" y1="235.48" x2="425.2" y2="233.72" stroke="#222" stroke-width="0.8"/>
<line x1="423.2" y1="233.72" x2="427.2" y2="233.72" stroke="#222" stroke-width="0.8"/>
<circle cx="422" cy="232.55" r="1.3" fill="#222"/>
<circle cx="428.2" cy="231.08" r="1.3" fill="#222"/>
<circle cx="425.2" cy="235.7" r="1.3" fill="#222"/>
<circle cx="425.2" cy="239.74" r="1.3" fill="#222"/>
<line x1="425.2" y1="282.9" x2="425.2" y2="284.9" stroke="#222" stroke-width="0.7"/>
<text transform="translate(428.8,293.5) rotate(-45) scale(0.7,1)" font-size="8" text-anchor="end" fill="#222" stroke="#222" stroke-width="0.12">Stim.</text>
<circle cx="435.3" cy="282.17" r="1.3" fill="#222"/>
<circle cx="437.3" cy="282.02" r="1.3" fill="#222"/>
<circle cx="439.3" cy="282.31" r="1.3" fill="#222"/>
<circle cx="441.3" cy="282.17" r="1.3" fill="#222"/>
<line x1="438.3" y1="282.9" x2="438.3" y2="284.9" stroke="#222" stroke-width="0.7"/>
<text transform="translate(441.9,293.5) rotate(-45) scale(0.7,1)" font-size="8" text-anchor="end" fill="#222" stroke="#222" stroke-width="0.12">Unstim.</text>
<rect x="447.5" y="274.09" width="8" height="8.81" fill="#c20427"/>
<line x1="451.5" y1="274.09" x2="451.5" y2="273.14" stroke="#222" stroke-width="0.8"/>
<line x1="449.5" y1="273.14" x2="453.5" y2="273.14" stroke="#222" stroke-width="0.8"/>
<circle cx="449" cy="271.89" r="1.3" fill="#222"/>
<circle cx="454" cy="273.43" r="1.3" fill="#222"/>
<circle cx="451.5" cy="275.56" r="1.3" fill="#222"/>
<line x1="451.5" y1="282.9" x2="451.5" y2="284.9" stroke="#222" stroke-width="0.7"/>
<text transform="translate(455.1,293.5) rotate(-45) scale(0.7,1)" font-size="8" text-anchor="end" fill="#222" stroke="#222" stroke-width="0.12">Stim.</text>
<rect x="460.7" y="236.66" width="8" height="46.24" fill="#c20427"/>
<line x1="464.7" y1="236.66" x2="464.7" y2="232.25" stroke="#222" stroke-width="0.8"/>
<line x1="462.7" y1="232.25" x2="466.7" y2="232.25" stroke="#222" stroke-width="0.8"/>
<circle cx="464.7" cy="229.24" r="1.3" fill="#222"/>
<circle cx="464.7" cy="240.18" r="1.3" fill="#222"/>
<line x1="464.7" y1="282.9" x2="464.7" y2="284.9" stroke="#222" stroke-width="0.7"/>
<text transform="translate(468.3,293.5) rotate(-45) scale(0.75,1)" font-size="8" text-anchor="end" fill="#222" stroke="#222" stroke-width="0.12">Stim. + 3T40</text>
<rect x="473.8" y="236.66" width="8" height="46.24" fill="#c20427"/>
<line x1="477.8" y1="236.66" x2="477.8" y2="234.82" stroke="#222" stroke-width="0.8"/>
<line x1="475.8" y1="234.82" x2="479.8" y2="234.82" stroke="#222" stroke-width="0.8"/>
<circle cx="475.9" cy="232.91" r="1.3" fill="#222"/>
<circle cx="479.3" cy="236.73" r="1.3" fill="#222"/>
<circle cx="476.8" cy="236.29" r="1.3" fill="#222"/>
<line x1="477.8" y1="282.9" x2="477.8" y2="284.9" stroke="#222" stroke-width="0.7"/>
<text transform="translate(481.4,293.5) rotate(-45) scale(0.7,1)" font-size="8" text-anchor="end" fill="#222" stroke="#222" stroke-width="0.12">a54</text>
<rect x="486.9" y="238.86" width="8" height="44.04" fill="#c20427"/>
<line x1="490.9" y1="238.86" x2="490.9" y2="237.17" stroke="#222" stroke-width="0.8"/>
<line x1="488.9" y1="237.17" x2="492.9" y2="237.17" stroke="#222" stroke-width="0.8"/>
<circle cx="490.9" cy="233.43" r="1.3" fill="#222"/>
<circle cx="490.9" cy="237.76" r="1.3" fill="#222"/>
<line x1="490.9" y1="282.9" x2="490.9" y2="284.9" stroke="#222" stroke-width="0.7"/>
<text transform="translate(494.5,293.5) rotate(-45) scale(0.7,1)" font-size="8" text-anchor="end" fill="#222" stroke="#222" stroke-width="0.12">a58</text>
<rect x="500" y="242.53" width="8" height="40.37" fill="#c20427"/>
<line x1="504" y1="242.53" x2="504" y2="240.18" stroke="#222" stroke-width="0.8"/>
<line x1="502" y1="240.18" x2="506" y2="240.18" stroke="#222" stroke-width="0.8"/>
<circle cx="504" cy="237.61" r="1.3" fill="#222"/>
<circle cx="504" cy="242.53" r="1.3" fill="#222"/>
<line x1="504" y1="282.9" x2="504" y2="284.9" stroke="#222" stroke-width="0.7"/>
<text transform="translate(507.6,293.5) rotate(-45) scale(0.7,1)" font-size="8" text-anchor="end" fill="#222" stroke="#222" stroke-width="0.12">a54 + a58</text>
<line x1="402.8" y1="282.9" x2="513.9" y2="282.9" stroke="#222" stroke-width="1.3"/>
<polyline points="425,218.1 425,214.5 450.5,214.5 450.5,218.1" stroke="#555" stroke-width="0.75" fill="none"/>
<text transform="translate(437.75,214.1)" font-size="5.6" text-anchor="middle" fill="#333" font-weight="bold">****</text>
<polyline points="452.5,218.1 452.5,214.5 465,214.5 465,218.1" stroke="#555" stroke-width="0.75" fill="none"/>
<text transform="translate(458.75,214.1)" font-size="5.6" text-anchor="middle" fill="#333" font-weight="bold">****</text>
<line x1="475" y1="320" x2="509.9" y2="320" stroke="#222" stroke-width="1"/>
<text transform="translate(492.8,329.9)" font-size="8.4" text-anchor="middle" fill="#222" textLength="33.4" lengthAdjust="spacingAndGlyphs" stroke="#222" stroke-width="0.3">stim. + 3T40</text>
<text transform="translate(458.5,348)" font-size="8.4" text-anchor="middle" fill="#222" stroke="#222" stroke-width="0.12">CD25</text>
<line x1="403.7" y1="358.1" x2="403.7" y2="434.5" stroke="#222" stroke-width="1.3"/>
<line x1="401.1" y1="434" x2="403.7" y2="434" stroke="#222" stroke-width="1"/>
<text transform="translate(398.8,436.2)" font-size="6.4" text-anchor="end" fill="#222" stroke="#222" stroke-width="0.12">0</text>
<line x1="401.1" y1="419.32" x2="403.7" y2="419.32" stroke="#222" stroke-width="1"/>
<text transform="translate(398.8,421.52)" font-size="6.4" text-anchor="end" fill="#222" stroke="#222" stroke-width="0.12">20</text>
<line x1="401.1" y1="404.64" x2="403.7" y2="404.64" stroke="#222" stroke-width="1"/>
<text transform="translate(398.8,406.84)" font-size="6.4" text-anchor="end" fill="#222" stroke="#222" stroke-width="0.12">40</text>
<line x1="401.1" y1="389.96" x2="403.7" y2="389.96" stroke="#222" stroke-width="1"/>
<text transform="translate(398.8,392.16)" font-size="6.4" text-anchor="end" fill="#222" stroke="#222" stroke-width="0.12">60</text>
<line x1="401.1" y1="375.28" x2="403.7" y2="375.28" stroke="#222" stroke-width="1"/>
<text transform="translate(398.8,377.48)" font-size="6.4" text-anchor="end" fill="#222" stroke="#222" stroke-width="0.12">80</text>
<line x1="401.1" y1="360.6" x2="403.7" y2="360.6" stroke="#222" stroke-width="1"/>
<text transform="translate(398.8,362.8)" font-size="6.4" text-anchor="end" fill="#222" stroke="#222" stroke-width="0.12">100</text>
<text transform="translate(381.4,396.6) rotate(-90)" font-size="7.4" text-anchor="middle" fill="#222" font-weight="bold" textLength="23.2" lengthAdjust="spacingAndGlyphs">% of CD8</text>
<circle cx="409.3" cy="433.41" r="1.3" fill="#222"/>
<circle cx="411.3" cy="433.12" r="1.3" fill="#222"/>
<circle cx="413.3" cy="433.27" r="1.3" fill="#222"/>
<circle cx="415.3" cy="433.34" r="1.3" fill="#222"/>
<line x1="412.3" y1="434" x2="412.3" y2="436" stroke="#222" stroke-width="0.7"/>
<text transform="translate(415.9,444.6) rotate(-45) scale(0.7,1)" font-size="8" text-anchor="end" fill="#222" stroke="#222" stroke-width="0.12">Unstim.</text>
<rect x="421.5" y="381.89" width="8" height="52.11" fill="#30a6df"/>
<line x1="425.5" y1="381.89" x2="425.5" y2="376.23" stroke="#222" stroke-width="0.8"/>
<line x1="423.5" y1="376.23" x2="427.5" y2="376.23" stroke="#222" stroke-width="0.8"/>
<circle cx="422.1" cy="373.45" r="1.3" fill="#222"/>
<circle cx="428.6" cy="373.45" r="1.3" fill="#222"/>
<circle cx="425.5" cy="384.09" r="1.3" fill="#222"/>
<circle cx="425.5" cy="389.23" r="1.3" fill="#222"/>
<line x1="425.5" y1="434" x2="425.5" y2="436" stroke="#222" stroke-width="0.7"/>
<text transform="translate(429.1,444.6) rotate(-45) scale(0.7,1)" font-size="8" text-anchor="end" fill="#222" stroke="#222" stroke-width="0.12">Stim.</text>
<circle cx="435.6" cy="433.27" r="1.3" fill="#222"/>
<circle cx="437.6" cy="433.12" r="1.3" fill="#222"/>
<circle cx="439.6" cy="433.41" r="1.3" fill="#222"/>
<circle cx="441.6" cy="433.27" r="1.3" fill="#222"/>
<line x1="438.6" y1="434" x2="438.6" y2="436" stroke="#222" stroke-width="0.7"/>
<text transform="translate(442.2,444.6) rotate(-45) scale(0.7,1)" font-size="8" text-anchor="end" fill="#222" stroke="#222" stroke-width="0.12">Unstim.</text>
<rect x="447.8" y="422.7" width="8" height="11.3" fill="#c20427"/>
<line x1="451.8" y1="422.7" x2="451.8" y2="416.24" stroke="#222" stroke-width="0.8"/>
<line x1="449.8" y1="416.24" x2="453.8" y2="416.24" stroke="#222" stroke-width="0.8"/>
<circle cx="451.8" cy="411.25" r="1.3" fill="#222"/>
<circle cx="451.8" cy="430.11" r="1.3" fill="#222"/>
<line x1="451.8" y1="434" x2="451.8" y2="436" stroke="#222" stroke-width="0.7"/>
<text transform="translate(455.4,444.6) rotate(-45) scale(0.7,1)" font-size="8" text-anchor="end" fill="#222" stroke="#222" stroke-width="0.12">Stim.</text>
<rect x="461" y="381.52" width="8" height="52.48" fill="#c20427"/>
<line x1="465" y1="381.52" x2="465" y2="373.81" stroke="#222" stroke-width="0.8"/>
<line x1="463" y1="373.81" x2="467" y2="373.81" stroke="#222" stroke-width="0.8"/>
<circle cx="461.7" cy="373.45" r="1.3" fill="#222"/>
<circle cx="468.7" cy="373.45" r="1.3" fill="#222"/>
<circle cx="465" cy="396.2" r="1.3" fill="#222"/>
<line x1="465" y1="434" x2="465" y2="436" stroke="#222" stroke-width="0.7"/>
<text transform="translate(468.6,444.6) rotate(-45) scale(0.75,1)" font-size="8" text-anchor="end" fill="#222" stroke="#222" stroke-width="0.12">Stim. + 3T40</text>
<rect x="474.1" y="379.68" width="8" height="54.32" fill="#c20427"/>
<line x1="478.1" y1="379.68" x2="478.1" y2="370.14" stroke="#222" stroke-width="0.8"/>
<line x1="476.1" y1="370.14" x2="480.1" y2="370.14" stroke="#222" stroke-width="0.8"/>
<circle cx="478.1" cy="369.19" r="1.3" fill="#222"/>
<circle cx="478.1" cy="370.73" r="1.3" fill="#222"/>
<circle cx="478.1" cy="396.57" r="1.3" fill="#222"/>
<line x1="478.1" y1="434" x2="478.1" y2="436" stroke="#222" stroke-width="0.7"/>
<text transform="translate(481.7,444.6) rotate(-45) scale(0.7,1)" font-size="8" text-anchor="end" fill="#222" stroke="#222" stroke-width="0.12">a54</text>
<rect x="487.2" y="384.09" width="8" height="49.91" fill="#c20427"/>
<line x1="491.2" y1="384.09" x2="491.2" y2="374.91" stroke="#222" stroke-width="0.8"/>
<line x1="489.2" y1="374.91" x2="493.2" y2="374.91" stroke="#222" stroke-width="0.8"/>
<circle cx="487.3" cy="373.81" r="1.3" fill="#222"/>
<circle cx="491.2" cy="400.97" r="1.3" fill="#222"/>
<line x1="491.2" y1="434" x2="491.2" y2="436" stroke="#222" stroke-width="0.7"/>
<text transform="translate(494.8,444.6) rotate(-45) scale(0.7,1)" font-size="8" text-anchor="end" fill="#222" stroke="#222" stroke-width="0.12">a58</text>
<rect x="500.3" y="384.97" width="8" height="49.03" fill="#c20427"/>
<line x1="504.3" y1="384.97" x2="504.3" y2="377.63" stroke="#222" stroke-width="0.8"/>
<line x1="502.3" y1="377.63" x2="506.3" y2="377.63" stroke="#222" stroke-width="0.8"/>
<circle cx="504.3" cy="372.05" r="1.3" fill="#222"/>
<circle cx="504.3" cy="376.23" r="1.3" fill="#222"/>
<circle cx="504.3" cy="400.97" r="1.3" fill="#222"/>
<line x1="504.3" y1="434" x2="504.3" y2="436" stroke="#222" stroke-width="0.7"/>
<text transform="translate(507.9,444.6) rotate(-45) scale(0.7,1)" font-size="8" text-anchor="end" fill="#222" stroke="#222" stroke-width="0.12">a54 + a58</text>
<line x1="403.1" y1="434" x2="514.2" y2="434" stroke="#222" stroke-width="1.3"/>
<polyline points="425.1,363 425.1,359.4 450.3,359.4 450.3,363" stroke="#555" stroke-width="0.75" fill="none"/>
<text transform="translate(437.7,359)" font-size="5.6" text-anchor="middle" fill="#333" font-weight="bold">***</text>
<polyline points="452.5,363 452.5,359.4 464.9,359.4 464.9,363" stroke="#555" stroke-width="0.75" fill="none"/>
<text transform="translate(458.7,359)" font-size="5.6" text-anchor="middle" fill="#333" font-weight="bold">**</text>
<line x1="475" y1="471.4" x2="509.9" y2="471.4" stroke="#222" stroke-width="1"/>
<text transform="translate(492.8,481.3)" font-size="8.4" text-anchor="middle" fill="#222" textLength="33.4" lengthAdjust="spacingAndGlyphs" stroke="#222" stroke-width="0.3">stim. + 3T40</text>
</svg>
<div class="frame"></div>
</body></html>
